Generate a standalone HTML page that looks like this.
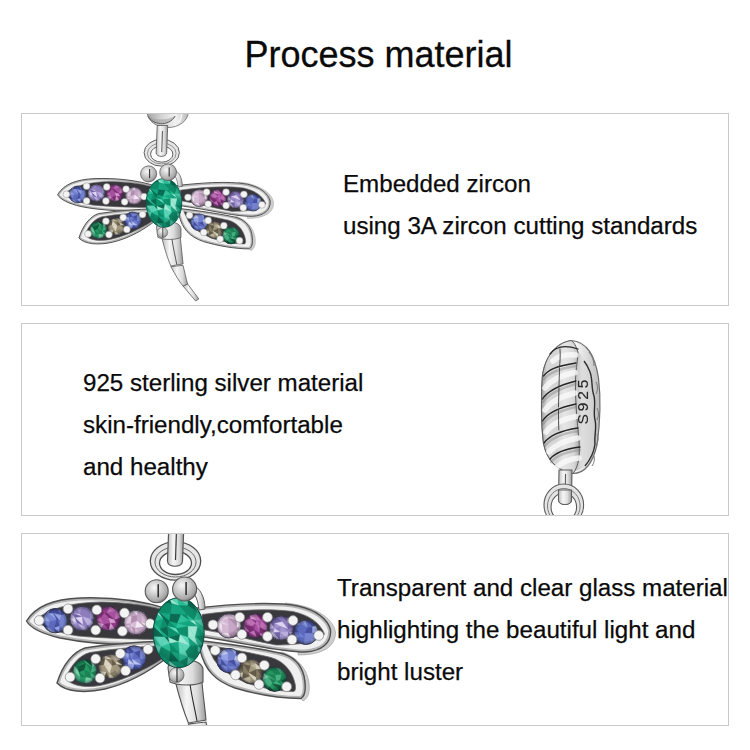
<!DOCTYPE html>
<html><head><meta charset="utf-8">
<style>
html,body{margin:0;padding:0;background:#fff;}
body{width:750px;height:750px;position:relative;overflow:hidden;font-family:"Liberation Sans",sans-serif;color:#0a0a0a;}
.t{position:absolute;white-space:nowrap;font-size:24.15px;line-height:28px;-webkit-text-stroke:0.25px #0a0a0a;}
.box{position:absolute;left:21px;width:706px;height:191px;border:1px solid #c9c9c9;}
#title{position:absolute;left:244.5px;top:35px;font-size:36px;line-height:40px;white-space:nowrap;-webkit-text-stroke:0.3px #0a0a0a;}
svg{position:absolute;left:0;top:0;}
</style></head><body>
<div id="title">Process material</div>
<div class="box" style="top:113px"></div>
<div class="box" style="top:323px"></div>
<div class="box" style="top:533px"></div>
<svg width="750" height="750" viewBox="0 0 750 750">
<defs>
<clipPath id="c1"><rect x="22" y="114" width="706" height="191"/></clipPath>
<clipPath id="c2"><rect x="22" y="324" width="706" height="191"/></clipPath>
<clipPath id="c3"><rect x="22" y="534" width="706" height="191"/></clipPath>
<radialGradient id="gBlue" cx="40%" cy="38%" r="65%"><stop offset="0" stop-color="#8c96d4"/><stop offset="0.55" stop-color="#5a64b0"/><stop offset="1" stop-color="#363c80"/></radialGradient><radialGradient id="gLav" cx="40%" cy="38%" r="65%"><stop offset="0" stop-color="#c4b8e4"/><stop offset="0.55" stop-color="#9486c4"/><stop offset="1" stop-color="#645698"/></radialGradient><radialGradient id="gMag" cx="40%" cy="38%" r="65%"><stop offset="0" stop-color="#c07cba"/><stop offset="0.55" stop-color="#9a4a92"/><stop offset="1" stop-color="#642a60"/></radialGradient><radialGradient id="gPink" cx="40%" cy="38%" r="65%"><stop offset="0" stop-color="#eedcee"/><stop offset="0.55" stop-color="#d4b4d4"/><stop offset="1" stop-color="#a488a4"/></radialGradient><radialGradient id="gGrn" cx="40%" cy="38%" r="65%"><stop offset="0" stop-color="#50b080"/><stop offset="0.55" stop-color="#248a5c"/><stop offset="1" stop-color="#12583c"/></radialGradient><radialGradient id="gTan" cx="40%" cy="38%" r="65%"><stop offset="0" stop-color="#d4ccb4"/><stop offset="0.55" stop-color="#a09478"/><stop offset="1" stop-color="#605844"/></radialGradient><radialGradient id="gTeal" cx="45%" cy="42%" r="62%"><stop offset="0" stop-color="#4cc8b0"/><stop offset="0.5" stop-color="#1c9a84"/><stop offset="1" stop-color="#0c5c50"/></radialGradient><radialGradient id="gBead" cx="45%" cy="60%" r="60%"><stop offset="0" stop-color="#f4f4f4"/><stop offset="0.6" stop-color="#d6d6d6"/><stop offset="1" stop-color="#a0a0a0"/></radialGradient><radialGradient id="gBall" cx="40%" cy="35%" r="70%"><stop offset="0" stop-color="#f8f8f8"/><stop offset="0.4" stop-color="#d0d0d0"/><stop offset="0.8" stop-color="#a8a8a8"/><stop offset="1" stop-color="#707070"/></radialGradient><radialGradient id="gEdge" cx="50%" cy="50%" r="50%"><stop offset="0" stop-color="#000" stop-opacity="0"/><stop offset="0.7" stop-color="#000" stop-opacity="0.03"/><stop offset="1" stop-color="#101020" stop-opacity="0.4"/></radialGradient><radialGradient id="gTealShade" cx="45%" cy="42%" r="58%"><stop offset="0" stop-color="#000" stop-opacity="0"/><stop offset="0.65" stop-color="#000" stop-opacity="0.05"/><stop offset="1" stop-color="#002a22" stop-opacity="0.35"/></radialGradient><linearGradient id="gBeadL" x1="0" y1="0" x2="1" y2="0"><stop offset="0" stop-color="#a4a4a4"/><stop offset="0.35" stop-color="#d4d4d4"/><stop offset="0.7" stop-color="#f2f2f2"/><stop offset="1" stop-color="#b8b8b8"/></linearGradient><linearGradient id="gSil" x1="0" y1="0" x2="1" y2="0"><stop offset="0" stop-color="#bdbdbd"/><stop offset="0.35" stop-color="#f6f6f6"/><stop offset="0.7" stop-color="#dcdcdc"/><stop offset="1" stop-color="#9a9a9a"/></linearGradient>
<filter id="soft" x="-5%" y="-5%" width="110%" height="110%"><feGaussianBlur stdDeviation="0.45"/></filter>
<g id="df">
<clipPath id="rc1"><path d="M26.5,621 C36,605 55,599 80,598 C110,597 140,600 168,609 L168,643 C130,646 90,644 60,638 C43,634 30.5,628 26.5,621 Z"/></clipPath><path fill="#f0f0f0" d="M26.5,621 C36,605 55,599 80,598 C110,597 140,600 168,609 L168,643 C130,646 90,644 60,638 C43,634 30.5,628 26.5,621 Z"/><path fill="none" stroke="#b4b4b4" stroke-width="5" clip-path="url(#rc1)" d="M26.5,621 C36,605 55,599 80,598 C110,597 140,600 168,609 L168,643 C130,646 90,644 60,638 C43,634 30.5,628 26.5,621 Z"/><path fill="none" stroke="#505050" stroke-width="1.4" d="M26.5,621 C36,605 55,599 80,598 C110,597 140,600 168,609 L168,643 C130,646 90,644 60,638 C43,634 30.5,628 26.5,621 Z"/>
<path fill="#38383c" stroke="#6a6a6a" stroke-width="0.8" d="M34.5,620.5 C49,608 72,602.5 102,602 C130,602.5 150,606 168,611 L168,639.5 C135,639.5 100,638 78,636 C58,633 44,627 34.5,620.5 Z"/>
<clipPath id="rc2"><path d="M57,683 C62.5,665 73,652 85,648 C110,644 140,642 168,641 L168,657 C150,671 130,683 105,689 C85,693.5 65.5,692 57,683 Z"/></clipPath><path fill="#f0f0f0" d="M57,683 C62.5,665 73,652 85,648 C110,644 140,642 168,641 L168,657 C150,671 130,683 105,689 C85,693.5 65.5,692 57,683 Z"/><path fill="none" stroke="#b4b4b4" stroke-width="5" clip-path="url(#rc2)" d="M57,683 C62.5,665 73,652 85,648 C110,644 140,642 168,641 L168,657 C150,671 130,683 105,689 C85,693.5 65.5,692 57,683 Z"/><path fill="none" stroke="#505050" stroke-width="1.4" d="M57,683 C62.5,665 73,652 85,648 C110,644 140,642 168,641 L168,657 C150,671 130,683 105,689 C85,693.5 65.5,692 57,683 Z"/>
<path fill="#38383c" stroke="#6a6a6a" stroke-width="0.8" d="M65.5,678.5 C71,665 79.5,655 90,652.5 C115,648.5 140,646.5 164,645.5 L162,659 C142,672 120,681.5 100,685.5 C85,688 72,686 65.5,678.5 Z"/>
<path fill="#cdcdcd" stroke="#9a9a9a" stroke-width="0.6" d="M285,603 C312,605 333,617 335.5,632 C336,647 322,655 298,655 L298,650 C320,650 330.5,643 330.5,630 C328,619 314,609 285,606 Z"/>
<path fill="#cdcdcd" stroke="#9a9a9a" stroke-width="0.6" d="M282,652 C297,657 306,668 308.5,680 C310.5,690 309,698 303,701 L301,698.5 C306,694 306,686 304,676 C301,664 293,656 280,653 Z"/>
<clipPath id="rc3"><path d="M188,609 C230,604 270,601 298,606 C316,610 328,619 330.5,630 C331.5,643 322,651 305,652 C275,652 240,641 188,635 Z"/></clipPath><path fill="#f0f0f0" d="M188,609 C230,604 270,601 298,606 C316,610 328,619 330.5,630 C331.5,643 322,651 305,652 C275,652 240,641 188,635 Z"/><path fill="none" stroke="#b4b4b4" stroke-width="5" clip-path="url(#rc3)" d="M188,609 C230,604 270,601 298,606 C316,610 328,619 330.5,630 C331.5,643 322,651 305,652 C275,652 240,641 188,635 Z"/><path fill="none" stroke="#505050" stroke-width="1.4" d="M188,609 C230,604 270,601 298,606 C316,610 328,619 330.5,630 C331.5,643 322,651 305,652 C275,652 240,641 188,635 Z"/>
<path fill="#38383c" stroke="#6a6a6a" stroke-width="0.8" d="M202,614.5 C240,609.5 270,608.5 293,611.5 C310,615.5 320,623 324.5,634 C318,642 300,645 276,645 C250,640 225,633 202,629.5 Z"/>
<clipPath id="rc4"><path d="M194,640 C230,644 262,649 280,653 C293,656 301,664 304,676 C306,686 306,695 301,698.5 C280,698.5 255,694 235,688 C215,681 205,670 200,650 Z"/></clipPath><path fill="#f0f0f0" d="M194,640 C230,644 262,649 280,653 C293,656 301,664 304,676 C306,686 306,695 301,698.5 C280,698.5 255,694 235,688 C215,681 205,670 200,650 Z"/><path fill="none" stroke="#b4b4b4" stroke-width="5" clip-path="url(#rc4)" d="M194,640 C230,644 262,649 280,653 C293,656 301,664 304,676 C306,686 306,695 301,698.5 C280,698.5 255,694 235,688 C215,681 205,670 200,650 Z"/><path fill="none" stroke="#505050" stroke-width="1.4" d="M194,640 C230,644 262,649 280,653 C293,656 301,664 304,676 C306,686 306,695 301,698.5 C280,698.5 255,694 235,688 C215,681 205,670 200,650 Z"/>
<path fill="#38383c" stroke="#6a6a6a" stroke-width="0.8" d="M207,645 C235,649.5 258,654.5 271,657.5 C283,661 291,670 294,680 C296,686 296,690 294,691.5 C280,691.5 262,688 248,683.5 C232,677 221,670 213.5,659 Z"/>
<circle cx="55.2" cy="620.7" r="12.2" fill="#7886d4"/><clipPath id="gc1"><ellipse cx="55.2" cy="620.7" rx="12.2" ry="12.2"/></clipPath><g clip-path="url(#gc1)"><polygon points="43.0,608.5 51.0,608.5 48.1,613.6" fill="#c0caf4" stroke="#c0caf4" stroke-width="0.4"/><polygon points="43.0,608.5 48.1,613.6 43.0,612.9" fill="#5e6cc0" stroke="#5e6cc0" stroke-width="0.4"/><polygon points="43.0,612.9 48.1,613.6 50.1,621.4" fill="#7886d4" stroke="#7886d4" stroke-width="0.4"/><polygon points="43.0,612.9 50.1,621.4 43.0,621.6" fill="#98a6e8" stroke="#98a6e8" stroke-width="0.4"/><polygon points="43.0,621.6 50.1,621.4 48.3,627.6" fill="#7886d4" stroke="#7886d4" stroke-width="0.4"/><polygon points="43.0,621.6 48.3,627.6 43.0,627.4" fill="#4650a0" stroke="#4650a0" stroke-width="0.4"/><polygon points="43.0,627.4 48.3,627.6 48.7,632.9" fill="#7886d4" stroke="#7886d4" stroke-width="0.4"/><polygon points="43.0,627.4 48.7,632.9 43.0,632.9" fill="#7886d4" stroke="#7886d4" stroke-width="0.4"/><polygon points="51.0,608.5 56.4,608.5 53.6,613.4" fill="#4650a0" stroke="#4650a0" stroke-width="0.4"/><polygon points="51.0,608.5 53.6,613.4 48.1,613.6" fill="#4650a0" stroke="#4650a0" stroke-width="0.4"/><polygon points="48.1,613.6 53.6,613.4 56.9,620.1" fill="#98a6e8" stroke="#98a6e8" stroke-width="0.4"/><polygon points="48.1,613.6 56.9,620.1 50.1,621.4" fill="#7886d4" stroke="#7886d4" stroke-width="0.4"/><polygon points="50.1,621.4 56.9,620.1 54.2,628.1" fill="#5e6cc0" stroke="#5e6cc0" stroke-width="0.4"/><polygon points="50.1,621.4 54.2,628.1 48.3,627.6" fill="#5e6cc0" stroke="#5e6cc0" stroke-width="0.4"/><polygon points="48.3,627.6 54.2,628.1 55.8,632.9" fill="#5e6cc0" stroke="#5e6cc0" stroke-width="0.4"/><polygon points="48.3,627.6 55.8,632.9 48.7,632.9" fill="#98a6e8" stroke="#98a6e8" stroke-width="0.4"/><polygon points="56.4,608.5 59.8,608.5 61.5,615.3" fill="#7886d4" stroke="#7886d4" stroke-width="0.4"/><polygon points="56.4,608.5 61.5,615.3 53.6,613.4" fill="#4650a0" stroke="#4650a0" stroke-width="0.4"/><polygon points="53.6,613.4 61.5,615.3 59.9,621.3" fill="#98a6e8" stroke="#98a6e8" stroke-width="0.4"/><polygon points="53.6,613.4 59.9,621.3 56.9,620.1" fill="#4650a0" stroke="#4650a0" stroke-width="0.4"/><polygon points="56.9,620.1 59.9,621.3 59.7,626.1" fill="#5e6cc0" stroke="#5e6cc0" stroke-width="0.4"/><polygon points="56.9,620.1 59.7,626.1 54.2,628.1" fill="#4650a0" stroke="#4650a0" stroke-width="0.4"/><polygon points="54.2,628.1 59.7,626.1 59.5,632.9" fill="#98a6e8" stroke="#98a6e8" stroke-width="0.4"/><polygon points="54.2,628.1 59.5,632.9 55.8,632.9" fill="#4650a0" stroke="#4650a0" stroke-width="0.4"/><polygon points="59.8,608.5 67.4,608.5 67.4,613.3" fill="#7886d4" stroke="#7886d4" stroke-width="0.4"/><polygon points="59.8,608.5 67.4,613.3 61.5,615.3" fill="#4650a0" stroke="#4650a0" stroke-width="0.4"/><polygon points="61.5,615.3 67.4,613.3 67.4,622.7" fill="#7886d4" stroke="#7886d4" stroke-width="0.4"/><polygon points="61.5,615.3 67.4,622.7 59.9,621.3" fill="#7886d4" stroke="#7886d4" stroke-width="0.4"/><polygon points="59.9,621.3 67.4,622.7 67.4,626.4" fill="#7886d4" stroke="#7886d4" stroke-width="0.4"/><polygon points="59.9,621.3 67.4,626.4 59.7,626.1" fill="#7886d4" stroke="#7886d4" stroke-width="0.4"/><polygon points="59.7,626.1 67.4,626.4 67.4,632.9" fill="#7886d4" stroke="#7886d4" stroke-width="0.4"/><polygon points="59.7,626.1 67.4,632.9 59.5,632.9" fill="#5e6cc0" stroke="#5e6cc0" stroke-width="0.4"/></g><circle cx="55.2" cy="620.7" r="12.2" fill="url(#gEdge)" stroke="#2c2c38" stroke-width="0.8"/>
<circle cx="82" cy="618.5" r="12.2" fill="#a496d0"/><clipPath id="gc2"><ellipse cx="82" cy="618.5" rx="12.2" ry="12.2"/></clipPath><g clip-path="url(#gc2)"><polygon points="69.8,606.3 74.6,606.3 74.0,613.8" fill="#7464a8" stroke="#7464a8" stroke-width="0.4"/><polygon points="69.8,606.3 74.0,613.8 69.8,613.0" fill="#9080c0" stroke="#9080c0" stroke-width="0.4"/><polygon points="69.8,613.0 74.0,613.8 75.2,618.0" fill="#9080c0" stroke="#9080c0" stroke-width="0.4"/><polygon points="69.8,613.0 75.2,618.0 69.8,619.4" fill="#c0b4e4" stroke="#c0b4e4" stroke-width="0.4"/><polygon points="69.8,619.4 75.2,618.0 77.2,623.2" fill="#e0d8f4" stroke="#e0d8f4" stroke-width="0.4"/><polygon points="69.8,619.4 77.2,623.2 69.8,626.6" fill="#c0b4e4" stroke="#c0b4e4" stroke-width="0.4"/><polygon points="69.8,626.6 77.2,623.2 77.6,630.7" fill="#a496d0" stroke="#a496d0" stroke-width="0.4"/><polygon points="69.8,626.6 77.6,630.7 69.8,630.7" fill="#7464a8" stroke="#7464a8" stroke-width="0.4"/><polygon points="74.6,606.3 82.0,606.3 80.2,614.2" fill="#a496d0" stroke="#a496d0" stroke-width="0.4"/><polygon points="74.6,606.3 80.2,614.2 74.0,613.8" fill="#9080c0" stroke="#9080c0" stroke-width="0.4"/><polygon points="74.0,613.8 80.2,614.2 82.3,616.7" fill="#e0d8f4" stroke="#e0d8f4" stroke-width="0.4"/><polygon points="74.0,613.8 82.3,616.7 75.2,618.0" fill="#7464a8" stroke="#7464a8" stroke-width="0.4"/><polygon points="75.2,618.0 82.3,616.7 83.4,625.8" fill="#e0d8f4" stroke="#e0d8f4" stroke-width="0.4"/><polygon points="75.2,618.0 83.4,625.8 77.2,623.2" fill="#7464a8" stroke="#7464a8" stroke-width="0.4"/><polygon points="77.2,623.2 83.4,625.8 83.0,630.7" fill="#c0b4e4" stroke="#c0b4e4" stroke-width="0.4"/><polygon points="77.2,623.2 83.0,630.7 77.6,630.7" fill="#9080c0" stroke="#9080c0" stroke-width="0.4"/><polygon points="82.0,606.3 88.8,606.3 90.2,610.3" fill="#a496d0" stroke="#a496d0" stroke-width="0.4"/><polygon points="82.0,606.3 90.2,610.3 80.2,614.2" fill="#9080c0" stroke="#9080c0" stroke-width="0.4"/><polygon points="80.2,614.2 90.2,610.3 90.1,619.1" fill="#9080c0" stroke="#9080c0" stroke-width="0.4"/><polygon points="80.2,614.2 90.1,619.1 82.3,616.7" fill="#9080c0" stroke="#9080c0" stroke-width="0.4"/><polygon points="82.3,616.7 90.1,619.1 87.0,625.1" fill="#c0b4e4" stroke="#c0b4e4" stroke-width="0.4"/><polygon points="82.3,616.7 87.0,625.1 83.4,625.8" fill="#9080c0" stroke="#9080c0" stroke-width="0.4"/><polygon points="83.4,625.8 87.0,625.1 87.4,630.7" fill="#9080c0" stroke="#9080c0" stroke-width="0.4"/><polygon points="83.4,625.8 87.4,630.7 83.0,630.7" fill="#c0b4e4" stroke="#c0b4e4" stroke-width="0.4"/><polygon points="88.8,606.3 94.2,606.3 94.2,613.0" fill="#7464a8" stroke="#7464a8" stroke-width="0.4"/><polygon points="88.8,606.3 94.2,613.0 90.2,610.3" fill="#9080c0" stroke="#9080c0" stroke-width="0.4"/><polygon points="90.2,610.3 94.2,613.0 94.2,619.4" fill="#a496d0" stroke="#a496d0" stroke-width="0.4"/><polygon points="90.2,610.3 94.2,619.4 90.1,619.1" fill="#a496d0" stroke="#a496d0" stroke-width="0.4"/><polygon points="90.1,619.1 94.2,619.4 94.2,624.7" fill="#7464a8" stroke="#7464a8" stroke-width="0.4"/><polygon points="90.1,619.1 94.2,624.7 87.0,625.1" fill="#c0b4e4" stroke="#c0b4e4" stroke-width="0.4"/><polygon points="87.0,625.1 94.2,624.7 94.2,630.7" fill="#a496d0" stroke="#a496d0" stroke-width="0.4"/><polygon points="87.0,625.1 94.2,630.7 87.4,630.7" fill="#7464a8" stroke="#7464a8" stroke-width="0.4"/></g><circle cx="82" cy="618.5" r="12.2" fill="url(#gEdge)" stroke="#2c2c38" stroke-width="0.8"/>
<circle cx="108.5" cy="618.5" r="12.2" fill="#aa52a2"/><clipPath id="gc3"><ellipse cx="108.5" cy="618.5" rx="12.2" ry="12.2"/></clipPath><g clip-path="url(#gc3)"><polygon points="96.3,606.3 101.5,606.3 104.4,613.1" fill="#943e8c" stroke="#943e8c" stroke-width="0.4"/><polygon points="96.3,606.3 104.4,613.1 96.3,612.2" fill="#782e70" stroke="#782e70" stroke-width="0.4"/><polygon points="96.3,612.2 104.4,613.1 100.8,617.9" fill="#782e70" stroke="#782e70" stroke-width="0.4"/><polygon points="96.3,612.2 100.8,617.9 96.3,620.1" fill="#943e8c" stroke="#943e8c" stroke-width="0.4"/><polygon points="96.3,620.1 100.8,617.9 104.0,624.3" fill="#c072b8" stroke="#c072b8" stroke-width="0.4"/><polygon points="96.3,620.1 104.0,624.3 96.3,622.6" fill="#aa52a2" stroke="#aa52a2" stroke-width="0.4"/><polygon points="96.3,622.6 104.0,624.3 100.4,630.7" fill="#dca0d6" stroke="#dca0d6" stroke-width="0.4"/><polygon points="96.3,622.6 100.4,630.7 96.3,630.7" fill="#c072b8" stroke="#c072b8" stroke-width="0.4"/><polygon points="101.5,606.3 110.2,606.3 106.9,613.0" fill="#943e8c" stroke="#943e8c" stroke-width="0.4"/><polygon points="101.5,606.3 106.9,613.0 104.4,613.1" fill="#943e8c" stroke="#943e8c" stroke-width="0.4"/><polygon points="104.4,613.1 106.9,613.0 109.0,618.3" fill="#782e70" stroke="#782e70" stroke-width="0.4"/><polygon points="104.4,613.1 109.0,618.3 100.8,617.9" fill="#aa52a2" stroke="#aa52a2" stroke-width="0.4"/><polygon points="100.8,617.9 109.0,618.3 110.5,623.2" fill="#aa52a2" stroke="#aa52a2" stroke-width="0.4"/><polygon points="100.8,617.9 110.5,623.2 104.0,624.3" fill="#aa52a2" stroke="#aa52a2" stroke-width="0.4"/><polygon points="104.0,624.3 110.5,623.2 108.9,630.7" fill="#782e70" stroke="#782e70" stroke-width="0.4"/><polygon points="104.0,624.3 108.9,630.7 100.4,630.7" fill="#aa52a2" stroke="#aa52a2" stroke-width="0.4"/><polygon points="110.2,606.3 113.0,606.3 116.6,610.9" fill="#782e70" stroke="#782e70" stroke-width="0.4"/><polygon points="110.2,606.3 116.6,610.9 106.9,613.0" fill="#c072b8" stroke="#c072b8" stroke-width="0.4"/><polygon points="106.9,613.0 116.6,610.9 114.7,619.9" fill="#aa52a2" stroke="#aa52a2" stroke-width="0.4"/><polygon points="106.9,613.0 114.7,619.9 109.0,618.3" fill="#782e70" stroke="#782e70" stroke-width="0.4"/><polygon points="109.0,618.3 114.7,619.9 116.2,622.9" fill="#dca0d6" stroke="#dca0d6" stroke-width="0.4"/><polygon points="109.0,618.3 116.2,622.9 110.5,623.2" fill="#dca0d6" stroke="#dca0d6" stroke-width="0.4"/><polygon points="110.5,623.2 116.2,622.9 116.2,630.7" fill="#943e8c" stroke="#943e8c" stroke-width="0.4"/><polygon points="110.5,623.2 116.2,630.7 108.9,630.7" fill="#dca0d6" stroke="#dca0d6" stroke-width="0.4"/><polygon points="113.0,606.3 120.7,606.3 120.7,613.9" fill="#943e8c" stroke="#943e8c" stroke-width="0.4"/><polygon points="113.0,606.3 120.7,613.9 116.6,610.9" fill="#aa52a2" stroke="#aa52a2" stroke-width="0.4"/><polygon points="116.6,610.9 120.7,613.9 120.7,617.7" fill="#aa52a2" stroke="#aa52a2" stroke-width="0.4"/><polygon points="116.6,610.9 120.7,617.7 114.7,619.9" fill="#c072b8" stroke="#c072b8" stroke-width="0.4"/><polygon points="114.7,619.9 120.7,617.7 120.7,625.7" fill="#782e70" stroke="#782e70" stroke-width="0.4"/><polygon points="114.7,619.9 120.7,625.7 116.2,622.9" fill="#782e70" stroke="#782e70" stroke-width="0.4"/><polygon points="116.2,622.9 120.7,625.7 120.7,630.7" fill="#782e70" stroke="#782e70" stroke-width="0.4"/><polygon points="116.2,622.9 120.7,630.7 116.2,630.7" fill="#943e8c" stroke="#943e8c" stroke-width="0.4"/></g><circle cx="108.5" cy="618.5" r="12.2" fill="url(#gEdge)" stroke="#2c2c38" stroke-width="0.8"/>
<circle cx="136" cy="622.5" r="12.2" fill="#d8bcd8"/><clipPath id="gc4"><ellipse cx="136" cy="622.5" rx="12.2" ry="12.2"/></clipPath><g clip-path="url(#gc4)"><polygon points="123.8,610.3 130.8,610.3 131.8,616.5" fill="#c8aac8" stroke="#c8aac8" stroke-width="0.4"/><polygon points="123.8,610.3 131.8,616.5 123.8,616.9" fill="#c8aac8" stroke="#c8aac8" stroke-width="0.4"/><polygon points="123.8,616.9 131.8,616.5 130.9,623.5" fill="#e8d2e8" stroke="#e8d2e8" stroke-width="0.4"/><polygon points="123.8,616.9 130.9,623.5 123.8,624.2" fill="#e8d2e8" stroke="#e8d2e8" stroke-width="0.4"/><polygon points="123.8,624.2 130.9,623.5 131.4,626.6" fill="#c8aac8" stroke="#c8aac8" stroke-width="0.4"/><polygon points="123.8,624.2 131.4,626.6 123.8,628.4" fill="#e8d2e8" stroke="#e8d2e8" stroke-width="0.4"/><polygon points="123.8,628.4 131.4,626.6 128.5,634.7" fill="#c8aac8" stroke="#c8aac8" stroke-width="0.4"/><polygon points="123.8,628.4 128.5,634.7 123.8,634.7" fill="#c8aac8" stroke="#c8aac8" stroke-width="0.4"/><polygon points="130.8,610.3 138.1,610.3 137.1,615.4" fill="#f6ecf6" stroke="#f6ecf6" stroke-width="0.4"/><polygon points="130.8,610.3 137.1,615.4 131.8,616.5" fill="#c8aac8" stroke="#c8aac8" stroke-width="0.4"/><polygon points="131.8,616.5 137.1,615.4 137.0,621.1" fill="#b090b0" stroke="#b090b0" stroke-width="0.4"/><polygon points="131.8,616.5 137.0,621.1 130.9,623.5" fill="#b090b0" stroke="#b090b0" stroke-width="0.4"/><polygon points="130.9,623.5 137.0,621.1 135.4,628.3" fill="#d8bcd8" stroke="#d8bcd8" stroke-width="0.4"/><polygon points="130.9,623.5 135.4,628.3 131.4,626.6" fill="#e8d2e8" stroke="#e8d2e8" stroke-width="0.4"/><polygon points="131.4,626.6 135.4,628.3 134.8,634.7" fill="#b090b0" stroke="#b090b0" stroke-width="0.4"/><polygon points="131.4,626.6 134.8,634.7 128.5,634.7" fill="#d8bcd8" stroke="#d8bcd8" stroke-width="0.4"/><polygon points="138.1,610.3 140.6,610.3 142.1,617.0" fill="#c8aac8" stroke="#c8aac8" stroke-width="0.4"/><polygon points="138.1,610.3 142.1,617.0 137.1,615.4" fill="#c8aac8" stroke="#c8aac8" stroke-width="0.4"/><polygon points="137.1,615.4 142.1,617.0 141.3,623.2" fill="#c8aac8" stroke="#c8aac8" stroke-width="0.4"/><polygon points="137.1,615.4 141.3,623.2 137.0,621.1" fill="#c8aac8" stroke="#c8aac8" stroke-width="0.4"/><polygon points="137.0,621.1 141.3,623.2 144.2,626.7" fill="#b090b0" stroke="#b090b0" stroke-width="0.4"/><polygon points="137.0,621.1 144.2,626.7 135.4,628.3" fill="#f6ecf6" stroke="#f6ecf6" stroke-width="0.4"/><polygon points="135.4,628.3 144.2,626.7 141.2,634.7" fill="#c8aac8" stroke="#c8aac8" stroke-width="0.4"/><polygon points="135.4,628.3 141.2,634.7 134.8,634.7" fill="#d8bcd8" stroke="#d8bcd8" stroke-width="0.4"/><polygon points="140.6,610.3 148.2,610.3 148.2,614.7" fill="#d8bcd8" stroke="#d8bcd8" stroke-width="0.4"/><polygon points="140.6,610.3 148.2,614.7 142.1,617.0" fill="#d8bcd8" stroke="#d8bcd8" stroke-width="0.4"/><polygon points="142.1,617.0 148.2,614.7 148.2,623.3" fill="#d8bcd8" stroke="#d8bcd8" stroke-width="0.4"/><polygon points="142.1,617.0 148.2,623.3 141.3,623.2" fill="#d8bcd8" stroke="#d8bcd8" stroke-width="0.4"/><polygon points="141.3,623.2 148.2,623.3 148.2,628.2" fill="#f6ecf6" stroke="#f6ecf6" stroke-width="0.4"/><polygon points="141.3,623.2 148.2,628.2 144.2,626.7" fill="#b090b0" stroke="#b090b0" stroke-width="0.4"/><polygon points="144.2,626.7 148.2,628.2 148.2,634.7" fill="#c8aac8" stroke="#c8aac8" stroke-width="0.4"/><polygon points="144.2,626.7 148.2,634.7 141.2,634.7" fill="#c8aac8" stroke="#c8aac8" stroke-width="0.4"/></g><circle cx="136" cy="622.5" r="12.2" fill="url(#gEdge)" stroke="#2c2c38" stroke-width="0.8"/>
<circle cx="85" cy="671.5" r="12.2" fill="#289a66"/><clipPath id="gc5"><ellipse cx="85" cy="671.5" rx="12.2" ry="12.2"/></clipPath><g clip-path="url(#gc5)"><polygon points="72.8,659.3 78.7,659.3 77.9,666.9" fill="#1c8456" stroke="#1c8456" stroke-width="0.4"/><polygon points="72.8,659.3 77.9,666.9 72.8,663.6" fill="#1c8456" stroke="#1c8456" stroke-width="0.4"/><polygon points="72.8,663.6 77.9,666.9 79.2,672.5" fill="#1c8456" stroke="#1c8456" stroke-width="0.4"/><polygon points="72.8,663.6 79.2,672.5 72.8,671.2" fill="#80d4ae" stroke="#80d4ae" stroke-width="0.4"/><polygon points="72.8,671.2 79.2,672.5 80.7,677.6" fill="#80d4ae" stroke="#80d4ae" stroke-width="0.4"/><polygon points="72.8,671.2 80.7,677.6 72.8,676.5" fill="#48b484" stroke="#48b484" stroke-width="0.4"/><polygon points="72.8,676.5 80.7,677.6 78.8,683.7" fill="#48b484" stroke="#48b484" stroke-width="0.4"/><polygon points="72.8,676.5 78.8,683.7 72.8,683.7" fill="#1c8456" stroke="#1c8456" stroke-width="0.4"/><polygon points="78.7,659.3 83.4,659.3 86.2,663.6" fill="#1c8456" stroke="#1c8456" stroke-width="0.4"/><polygon points="78.7,659.3 86.2,663.6 77.9,666.9" fill="#1c8456" stroke="#1c8456" stroke-width="0.4"/><polygon points="77.9,666.9 86.2,663.6 84.4,670.1" fill="#125a3c" stroke="#125a3c" stroke-width="0.4"/><polygon points="77.9,666.9 84.4,670.1 79.2,672.5" fill="#125a3c" stroke="#125a3c" stroke-width="0.4"/><polygon points="79.2,672.5 84.4,670.1 86.0,677.4" fill="#289a66" stroke="#289a66" stroke-width="0.4"/><polygon points="79.2,672.5 86.0,677.4 80.7,677.6" fill="#1c8456" stroke="#1c8456" stroke-width="0.4"/><polygon points="80.7,677.6 86.0,677.4 85.0,683.7" fill="#289a66" stroke="#289a66" stroke-width="0.4"/><polygon points="80.7,677.6 85.0,683.7 78.8,683.7" fill="#289a66" stroke="#289a66" stroke-width="0.4"/><polygon points="83.4,659.3 91.2,659.3 92.6,667.4" fill="#125a3c" stroke="#125a3c" stroke-width="0.4"/><polygon points="83.4,659.3 92.6,667.4 86.2,663.6" fill="#48b484" stroke="#48b484" stroke-width="0.4"/><polygon points="86.2,663.6 92.6,667.4 90.5,673.1" fill="#1c8456" stroke="#1c8456" stroke-width="0.4"/><polygon points="86.2,663.6 90.5,673.1 84.4,670.1" fill="#289a66" stroke="#289a66" stroke-width="0.4"/><polygon points="84.4,670.1 90.5,673.1 92.0,678.4" fill="#1c8456" stroke="#1c8456" stroke-width="0.4"/><polygon points="84.4,670.1 92.0,678.4 86.0,677.4" fill="#1c8456" stroke="#1c8456" stroke-width="0.4"/><polygon points="86.0,677.4 92.0,678.4 93.1,683.7" fill="#80d4ae" stroke="#80d4ae" stroke-width="0.4"/><polygon points="86.0,677.4 93.1,683.7 85.0,683.7" fill="#80d4ae" stroke="#80d4ae" stroke-width="0.4"/><polygon points="91.2,659.3 97.2,659.3 97.2,664.1" fill="#1c8456" stroke="#1c8456" stroke-width="0.4"/><polygon points="91.2,659.3 97.2,664.1 92.6,667.4" fill="#80d4ae" stroke="#80d4ae" stroke-width="0.4"/><polygon points="92.6,667.4 97.2,664.1 97.2,670.7" fill="#48b484" stroke="#48b484" stroke-width="0.4"/><polygon points="92.6,667.4 97.2,670.7 90.5,673.1" fill="#48b484" stroke="#48b484" stroke-width="0.4"/><polygon points="90.5,673.1 97.2,670.7 97.2,677.5" fill="#1c8456" stroke="#1c8456" stroke-width="0.4"/><polygon points="90.5,673.1 97.2,677.5 92.0,678.4" fill="#48b484" stroke="#48b484" stroke-width="0.4"/><polygon points="92.0,678.4 97.2,677.5 97.2,683.7" fill="#289a66" stroke="#289a66" stroke-width="0.4"/><polygon points="92.0,678.4 97.2,683.7 93.1,683.7" fill="#289a66" stroke="#289a66" stroke-width="0.4"/></g><circle cx="85" cy="671.5" r="12.2" fill="url(#gEdge)" stroke="#2c2c38" stroke-width="0.8"/>
<circle cx="110.7" cy="666.4" r="12.2" fill="#a49a80"/><clipPath id="gc6"><ellipse cx="110.7" cy="666.4" rx="12.2" ry="12.2"/></clipPath><g clip-path="url(#gc6)"><polygon points="98.5,654.2 103.5,654.2 105.4,658.8" fill="#a49a80" stroke="#a49a80" stroke-width="0.4"/><polygon points="98.5,654.2 105.4,658.8 98.5,658.8" fill="#a49a80" stroke="#a49a80" stroke-width="0.4"/><polygon points="98.5,658.8 105.4,658.8 104.0,665.1" fill="#645c48" stroke="#645c48" stroke-width="0.4"/><polygon points="98.5,658.8 104.0,665.1 98.5,665.8" fill="#645c48" stroke="#645c48" stroke-width="0.4"/><polygon points="98.5,665.8 104.0,665.1 106.6,672.5" fill="#a49a80" stroke="#a49a80" stroke-width="0.4"/><polygon points="98.5,665.8 106.6,672.5 98.5,671.1" fill="#a49a80" stroke="#a49a80" stroke-width="0.4"/><polygon points="98.5,671.1 106.6,672.5 103.8,678.6" fill="#e0d8c4" stroke="#e0d8c4" stroke-width="0.4"/><polygon points="98.5,671.1 103.8,678.6 98.5,678.6" fill="#645c48" stroke="#645c48" stroke-width="0.4"/><polygon points="103.5,654.2 110.3,654.2 112.1,659.7" fill="#887e68" stroke="#887e68" stroke-width="0.4"/><polygon points="103.5,654.2 112.1,659.7 105.4,658.8" fill="#e0d8c4" stroke="#e0d8c4" stroke-width="0.4"/><polygon points="105.4,658.8 112.1,659.7 112.1,665.9" fill="#887e68" stroke="#887e68" stroke-width="0.4"/><polygon points="105.4,658.8 112.1,665.9 104.0,665.1" fill="#e0d8c4" stroke="#e0d8c4" stroke-width="0.4"/><polygon points="104.0,665.1 112.1,665.9 109.7,674.2" fill="#e0d8c4" stroke="#e0d8c4" stroke-width="0.4"/><polygon points="104.0,665.1 109.7,674.2 106.6,672.5" fill="#a49a80" stroke="#a49a80" stroke-width="0.4"/><polygon points="106.6,672.5 109.7,674.2 108.7,678.6" fill="#a49a80" stroke="#a49a80" stroke-width="0.4"/><polygon points="106.6,672.5 108.7,678.6 103.8,678.6" fill="#645c48" stroke="#645c48" stroke-width="0.4"/><polygon points="110.3,654.2 118.6,654.2 116.1,661.3" fill="#c0b8a0" stroke="#c0b8a0" stroke-width="0.4"/><polygon points="110.3,654.2 116.1,661.3 112.1,659.7" fill="#a49a80" stroke="#a49a80" stroke-width="0.4"/><polygon points="112.1,659.7 116.1,661.3 116.6,664.6" fill="#a49a80" stroke="#a49a80" stroke-width="0.4"/><polygon points="112.1,659.7 116.6,664.6 112.1,665.9" fill="#645c48" stroke="#645c48" stroke-width="0.4"/><polygon points="112.1,665.9 116.6,664.6 114.9,670.8" fill="#a49a80" stroke="#a49a80" stroke-width="0.4"/><polygon points="112.1,665.9 114.9,670.8 109.7,674.2" fill="#a49a80" stroke="#a49a80" stroke-width="0.4"/><polygon points="109.7,674.2 114.9,670.8 115.2,678.6" fill="#887e68" stroke="#887e68" stroke-width="0.4"/><polygon points="109.7,674.2 115.2,678.6 108.7,678.6" fill="#e0d8c4" stroke="#e0d8c4" stroke-width="0.4"/><polygon points="118.6,654.2 122.9,654.2 122.9,659.0" fill="#e0d8c4" stroke="#e0d8c4" stroke-width="0.4"/><polygon points="118.6,654.2 122.9,659.0 116.1,661.3" fill="#c0b8a0" stroke="#c0b8a0" stroke-width="0.4"/><polygon points="116.1,661.3 122.9,659.0 122.9,665.4" fill="#645c48" stroke="#645c48" stroke-width="0.4"/><polygon points="116.1,661.3 122.9,665.4 116.6,664.6" fill="#e0d8c4" stroke="#e0d8c4" stroke-width="0.4"/><polygon points="116.6,664.6 122.9,665.4 122.9,671.3" fill="#645c48" stroke="#645c48" stroke-width="0.4"/><polygon points="116.6,664.6 122.9,671.3 114.9,670.8" fill="#a49a80" stroke="#a49a80" stroke-width="0.4"/><polygon points="114.9,670.8 122.9,671.3 122.9,678.6" fill="#a49a80" stroke="#a49a80" stroke-width="0.4"/><polygon points="114.9,670.8 122.9,678.6 115.2,678.6" fill="#887e68" stroke="#887e68" stroke-width="0.4"/></g><circle cx="110.7" cy="666.4" r="12.2" fill="url(#gEdge)" stroke="#2c2c38" stroke-width="0.8"/>
<circle cx="134" cy="658" r="12.2" fill="#7886d4"/><clipPath id="gc7"><ellipse cx="134" cy="658" rx="12.2" ry="12.2"/></clipPath><g clip-path="url(#gc7)"><polygon points="121.8,645.8 128.3,645.8 129.2,653.9" fill="#5e6cc0" stroke="#5e6cc0" stroke-width="0.4"/><polygon points="121.8,645.8 129.2,653.9 121.8,651.6" fill="#4650a0" stroke="#4650a0" stroke-width="0.4"/><polygon points="121.8,651.6 129.2,653.9 128.6,659.3" fill="#98a6e8" stroke="#98a6e8" stroke-width="0.4"/><polygon points="121.8,651.6 128.6,659.3 121.8,658.3" fill="#7886d4" stroke="#7886d4" stroke-width="0.4"/><polygon points="121.8,658.3 128.6,659.3 128.2,664.0" fill="#5e6cc0" stroke="#5e6cc0" stroke-width="0.4"/><polygon points="121.8,658.3 128.2,664.0 121.8,664.3" fill="#4650a0" stroke="#4650a0" stroke-width="0.4"/><polygon points="121.8,664.3 128.2,664.0 129.3,670.2" fill="#5e6cc0" stroke="#5e6cc0" stroke-width="0.4"/><polygon points="121.8,664.3 129.3,670.2 121.8,670.2" fill="#7886d4" stroke="#7886d4" stroke-width="0.4"/><polygon points="128.3,645.8 136.1,645.8 134.3,652.5" fill="#7886d4" stroke="#7886d4" stroke-width="0.4"/><polygon points="128.3,645.8 134.3,652.5 129.2,653.9" fill="#4650a0" stroke="#4650a0" stroke-width="0.4"/><polygon points="129.2,653.9 134.3,652.5 132.1,659.5" fill="#7886d4" stroke="#7886d4" stroke-width="0.4"/><polygon points="129.2,653.9 132.1,659.5 128.6,659.3" fill="#5e6cc0" stroke="#5e6cc0" stroke-width="0.4"/><polygon points="128.6,659.3 132.1,659.5 134.6,664.7" fill="#5e6cc0" stroke="#5e6cc0" stroke-width="0.4"/><polygon points="128.6,659.3 134.6,664.7 128.2,664.0" fill="#c0caf4" stroke="#c0caf4" stroke-width="0.4"/><polygon points="128.2,664.0 134.6,664.7 132.6,670.2" fill="#98a6e8" stroke="#98a6e8" stroke-width="0.4"/><polygon points="128.2,664.0 132.6,670.2 129.3,670.2" fill="#98a6e8" stroke="#98a6e8" stroke-width="0.4"/><polygon points="136.1,645.8 140.4,645.8 140.6,650.4" fill="#98a6e8" stroke="#98a6e8" stroke-width="0.4"/><polygon points="136.1,645.8 140.6,650.4 134.3,652.5" fill="#7886d4" stroke="#7886d4" stroke-width="0.4"/><polygon points="134.3,652.5 140.6,650.4 139.7,659.0" fill="#4650a0" stroke="#4650a0" stroke-width="0.4"/><polygon points="134.3,652.5 139.7,659.0 132.1,659.5" fill="#5e6cc0" stroke="#5e6cc0" stroke-width="0.4"/><polygon points="132.1,659.5 139.7,659.0 141.3,665.0" fill="#7886d4" stroke="#7886d4" stroke-width="0.4"/><polygon points="132.1,659.5 141.3,665.0 134.6,664.7" fill="#c0caf4" stroke="#c0caf4" stroke-width="0.4"/><polygon points="134.6,664.7 141.3,665.0 140.8,670.2" fill="#5e6cc0" stroke="#5e6cc0" stroke-width="0.4"/><polygon points="134.6,664.7 140.8,670.2 132.6,670.2" fill="#4650a0" stroke="#4650a0" stroke-width="0.4"/><polygon points="140.4,645.8 146.2,645.8 146.2,653.8" fill="#c0caf4" stroke="#c0caf4" stroke-width="0.4"/><polygon points="140.4,645.8 146.2,653.8 140.6,650.4" fill="#7886d4" stroke="#7886d4" stroke-width="0.4"/><polygon points="140.6,650.4 146.2,653.8 146.2,659.2" fill="#98a6e8" stroke="#98a6e8" stroke-width="0.4"/><polygon points="140.6,650.4 146.2,659.2 139.7,659.0" fill="#7886d4" stroke="#7886d4" stroke-width="0.4"/><polygon points="139.7,659.0 146.2,659.2 146.2,662.3" fill="#5e6cc0" stroke="#5e6cc0" stroke-width="0.4"/><polygon points="139.7,659.0 146.2,662.3 141.3,665.0" fill="#5e6cc0" stroke="#5e6cc0" stroke-width="0.4"/><polygon points="141.3,665.0 146.2,662.3 146.2,670.2" fill="#4650a0" stroke="#4650a0" stroke-width="0.4"/><polygon points="141.3,665.0 146.2,670.2 140.8,670.2" fill="#5e6cc0" stroke="#5e6cc0" stroke-width="0.4"/></g><circle cx="134" cy="658" r="12.2" fill="url(#gEdge)" stroke="#2c2c38" stroke-width="0.8"/>
<circle cx="229" cy="625.9" r="12.2" fill="#d8bcd8"/><clipPath id="gc8"><ellipse cx="229" cy="625.9" rx="12.2" ry="12.2"/></clipPath><g clip-path="url(#gc8)"><polygon points="216.8,613.7 224.8,613.7 222.1,620.9" fill="#e8d2e8" stroke="#e8d2e8" stroke-width="0.4"/><polygon points="216.8,613.7 222.1,620.9 216.8,621.4" fill="#e8d2e8" stroke="#e8d2e8" stroke-width="0.4"/><polygon points="216.8,621.4 222.1,620.9 222.2,624.5" fill="#e8d2e8" stroke="#e8d2e8" stroke-width="0.4"/><polygon points="216.8,621.4 222.2,624.5 216.8,625.3" fill="#f6ecf6" stroke="#f6ecf6" stroke-width="0.4"/><polygon points="216.8,625.3 222.2,624.5 222.3,633.1" fill="#f6ecf6" stroke="#f6ecf6" stroke-width="0.4"/><polygon points="216.8,625.3 222.3,633.1 216.8,633.2" fill="#e8d2e8" stroke="#e8d2e8" stroke-width="0.4"/><polygon points="216.8,633.2 222.3,633.1 221.4,638.1" fill="#c8aac8" stroke="#c8aac8" stroke-width="0.4"/><polygon points="216.8,633.2 221.4,638.1 216.8,638.1" fill="#d8bcd8" stroke="#d8bcd8" stroke-width="0.4"/><polygon points="224.8,613.7 229.7,613.7 228.4,618.4" fill="#d8bcd8" stroke="#d8bcd8" stroke-width="0.4"/><polygon points="224.8,613.7 228.4,618.4 222.1,620.9" fill="#e8d2e8" stroke="#e8d2e8" stroke-width="0.4"/><polygon points="222.1,620.9 228.4,618.4 228.7,625.4" fill="#d8bcd8" stroke="#d8bcd8" stroke-width="0.4"/><polygon points="222.1,620.9 228.7,625.4 222.2,624.5" fill="#e8d2e8" stroke="#e8d2e8" stroke-width="0.4"/><polygon points="222.2,624.5 228.7,625.4 228.8,633.6" fill="#d8bcd8" stroke="#d8bcd8" stroke-width="0.4"/><polygon points="222.2,624.5 228.8,633.6 222.3,633.1" fill="#d8bcd8" stroke="#d8bcd8" stroke-width="0.4"/><polygon points="222.3,633.1 228.8,633.6 230.8,638.1" fill="#f6ecf6" stroke="#f6ecf6" stroke-width="0.4"/><polygon points="222.3,633.1 230.8,638.1 221.4,638.1" fill="#e8d2e8" stroke="#e8d2e8" stroke-width="0.4"/><polygon points="229.7,613.7 233.9,613.7 237.2,620.3" fill="#f6ecf6" stroke="#f6ecf6" stroke-width="0.4"/><polygon points="229.7,613.7 237.2,620.3 228.4,618.4" fill="#d8bcd8" stroke="#d8bcd8" stroke-width="0.4"/><polygon points="228.4,618.4 237.2,620.3 237.1,627.3" fill="#b090b0" stroke="#b090b0" stroke-width="0.4"/><polygon points="228.4,618.4 237.1,627.3 228.7,625.4" fill="#c8aac8" stroke="#c8aac8" stroke-width="0.4"/><polygon points="228.7,625.4 237.1,627.3 235.2,630.9" fill="#c8aac8" stroke="#c8aac8" stroke-width="0.4"/><polygon points="228.7,625.4 235.2,630.9 228.8,633.6" fill="#c8aac8" stroke="#c8aac8" stroke-width="0.4"/><polygon points="228.8,633.6 235.2,630.9 236.9,638.1" fill="#b090b0" stroke="#b090b0" stroke-width="0.4"/><polygon points="228.8,633.6 236.9,638.1 230.8,638.1" fill="#b090b0" stroke="#b090b0" stroke-width="0.4"/><polygon points="233.9,613.7 241.2,613.7 241.2,621.9" fill="#d8bcd8" stroke="#d8bcd8" stroke-width="0.4"/><polygon points="233.9,613.7 241.2,621.9 237.2,620.3" fill="#e8d2e8" stroke="#e8d2e8" stroke-width="0.4"/><polygon points="237.2,620.3 241.2,621.9 241.2,626.4" fill="#e8d2e8" stroke="#e8d2e8" stroke-width="0.4"/><polygon points="237.2,620.3 241.2,626.4 237.1,627.3" fill="#f6ecf6" stroke="#f6ecf6" stroke-width="0.4"/><polygon points="237.1,627.3 241.2,626.4 241.2,630.4" fill="#d8bcd8" stroke="#d8bcd8" stroke-width="0.4"/><polygon points="237.1,627.3 241.2,630.4 235.2,630.9" fill="#b090b0" stroke="#b090b0" stroke-width="0.4"/><polygon points="235.2,630.9 241.2,630.4 241.2,638.1" fill="#c8aac8" stroke="#c8aac8" stroke-width="0.4"/><polygon points="235.2,630.9 241.2,638.1 236.9,638.1" fill="#b090b0" stroke="#b090b0" stroke-width="0.4"/></g><circle cx="229" cy="625.9" r="12.2" fill="url(#gEdge)" stroke="#2c2c38" stroke-width="0.8"/>
<circle cx="255.7" cy="625.9" r="12.2" fill="#aa52a2"/><clipPath id="gc9"><ellipse cx="255.7" cy="625.9" rx="12.2" ry="12.2"/></clipPath><g clip-path="url(#gc9)"><polygon points="243.5,613.7 249.0,613.7 250.7,619.0" fill="#782e70" stroke="#782e70" stroke-width="0.4"/><polygon points="243.5,613.7 250.7,619.0 243.5,620.7" fill="#943e8c" stroke="#943e8c" stroke-width="0.4"/><polygon points="243.5,620.7 250.7,619.0 251.2,626.4" fill="#c072b8" stroke="#c072b8" stroke-width="0.4"/><polygon points="243.5,620.7 251.2,626.4 243.5,624.5" fill="#aa52a2" stroke="#aa52a2" stroke-width="0.4"/><polygon points="243.5,624.5 251.2,626.4 249.6,632.5" fill="#782e70" stroke="#782e70" stroke-width="0.4"/><polygon points="243.5,624.5 249.6,632.5 243.5,630.3" fill="#c072b8" stroke="#c072b8" stroke-width="0.4"/><polygon points="243.5,630.3 249.6,632.5 249.9,638.1" fill="#782e70" stroke="#782e70" stroke-width="0.4"/><polygon points="243.5,630.3 249.9,638.1 243.5,638.1" fill="#782e70" stroke="#782e70" stroke-width="0.4"/><polygon points="249.0,613.7 255.8,613.7 257.0,620.6" fill="#c072b8" stroke="#c072b8" stroke-width="0.4"/><polygon points="249.0,613.7 257.0,620.6 250.7,619.0" fill="#dca0d6" stroke="#dca0d6" stroke-width="0.4"/><polygon points="250.7,619.0 257.0,620.6 255.8,623.8" fill="#943e8c" stroke="#943e8c" stroke-width="0.4"/><polygon points="250.7,619.0 255.8,623.8 251.2,626.4" fill="#c072b8" stroke="#c072b8" stroke-width="0.4"/><polygon points="251.2,626.4 255.8,623.8 254.5,630.4" fill="#943e8c" stroke="#943e8c" stroke-width="0.4"/><polygon points="251.2,626.4 254.5,630.4 249.6,632.5" fill="#782e70" stroke="#782e70" stroke-width="0.4"/><polygon points="249.6,632.5 254.5,630.4 257.3,638.1" fill="#c072b8" stroke="#c072b8" stroke-width="0.4"/><polygon points="249.6,632.5 257.3,638.1 249.9,638.1" fill="#943e8c" stroke="#943e8c" stroke-width="0.4"/><polygon points="255.8,613.7 263.8,613.7 261.3,620.9" fill="#782e70" stroke="#782e70" stroke-width="0.4"/><polygon points="255.8,613.7 261.3,620.9 257.0,620.6" fill="#c072b8" stroke="#c072b8" stroke-width="0.4"/><polygon points="257.0,620.6 261.3,620.9 259.9,627.4" fill="#aa52a2" stroke="#aa52a2" stroke-width="0.4"/><polygon points="257.0,620.6 259.9,627.4 255.8,623.8" fill="#c072b8" stroke="#c072b8" stroke-width="0.4"/><polygon points="255.8,623.8 259.9,627.4 259.9,633.4" fill="#c072b8" stroke="#c072b8" stroke-width="0.4"/><polygon points="255.8,623.8 259.9,633.4 254.5,630.4" fill="#aa52a2" stroke="#aa52a2" stroke-width="0.4"/><polygon points="254.5,630.4 259.9,633.4 262.4,638.1" fill="#782e70" stroke="#782e70" stroke-width="0.4"/><polygon points="254.5,630.4 262.4,638.1 257.3,638.1" fill="#782e70" stroke="#782e70" stroke-width="0.4"/><polygon points="263.8,613.7 267.9,613.7 267.9,621.4" fill="#c072b8" stroke="#c072b8" stroke-width="0.4"/><polygon points="263.8,613.7 267.9,621.4 261.3,620.9" fill="#aa52a2" stroke="#aa52a2" stroke-width="0.4"/><polygon points="261.3,620.9 267.9,621.4 267.9,627.0" fill="#943e8c" stroke="#943e8c" stroke-width="0.4"/><polygon points="261.3,620.9 267.9,627.0 259.9,627.4" fill="#c072b8" stroke="#c072b8" stroke-width="0.4"/><polygon points="259.9,627.4 267.9,627.0 267.9,631.8" fill="#c072b8" stroke="#c072b8" stroke-width="0.4"/><polygon points="259.9,627.4 267.9,631.8 259.9,633.4" fill="#782e70" stroke="#782e70" stroke-width="0.4"/><polygon points="259.9,633.4 267.9,631.8 267.9,638.1" fill="#aa52a2" stroke="#aa52a2" stroke-width="0.4"/><polygon points="259.9,633.4 267.9,638.1 262.4,638.1" fill="#dca0d6" stroke="#dca0d6" stroke-width="0.4"/></g><circle cx="255.7" cy="625.9" r="12.2" fill="url(#gEdge)" stroke="#2c2c38" stroke-width="0.8"/>
<circle cx="281.3" cy="628" r="12.2" fill="#a496d0"/><clipPath id="gc10"><ellipse cx="281.3" cy="628" rx="12.2" ry="12.2"/></clipPath><g clip-path="url(#gc10)"><polygon points="269.1,615.8 274.3,615.8 274.7,623.6" fill="#7464a8" stroke="#7464a8" stroke-width="0.4"/><polygon points="269.1,615.8 274.7,623.6 269.1,621.1" fill="#7464a8" stroke="#7464a8" stroke-width="0.4"/><polygon points="269.1,621.1 274.7,623.6 274.6,628.4" fill="#7464a8" stroke="#7464a8" stroke-width="0.4"/><polygon points="269.1,621.1 274.6,628.4 269.1,629.2" fill="#c0b4e4" stroke="#c0b4e4" stroke-width="0.4"/><polygon points="269.1,629.2 274.6,628.4 273.5,632.7" fill="#9080c0" stroke="#9080c0" stroke-width="0.4"/><polygon points="269.1,629.2 273.5,632.7 269.1,632.3" fill="#c0b4e4" stroke="#c0b4e4" stroke-width="0.4"/><polygon points="269.1,632.3 273.5,632.7 276.1,640.2" fill="#e0d8f4" stroke="#e0d8f4" stroke-width="0.4"/><polygon points="269.1,632.3 276.1,640.2 269.1,640.2" fill="#a496d0" stroke="#a496d0" stroke-width="0.4"/><polygon points="274.3,615.8 281.5,615.8 282.2,621.7" fill="#9080c0" stroke="#9080c0" stroke-width="0.4"/><polygon points="274.3,615.8 282.2,621.7 274.7,623.6" fill="#7464a8" stroke="#7464a8" stroke-width="0.4"/><polygon points="274.7,623.6 282.2,621.7 281.3,626.7" fill="#e0d8f4" stroke="#e0d8f4" stroke-width="0.4"/><polygon points="274.7,623.6 281.3,626.7 274.6,628.4" fill="#a496d0" stroke="#a496d0" stroke-width="0.4"/><polygon points="274.6,628.4 281.3,626.7 280.1,632.2" fill="#9080c0" stroke="#9080c0" stroke-width="0.4"/><polygon points="274.6,628.4 280.1,632.2 273.5,632.7" fill="#e0d8f4" stroke="#e0d8f4" stroke-width="0.4"/><polygon points="273.5,632.7 280.1,632.2 279.9,640.2" fill="#7464a8" stroke="#7464a8" stroke-width="0.4"/><polygon points="273.5,632.7 279.9,640.2 276.1,640.2" fill="#c0b4e4" stroke="#c0b4e4" stroke-width="0.4"/><polygon points="281.5,615.8 287.2,615.8 287.8,622.9" fill="#7464a8" stroke="#7464a8" stroke-width="0.4"/><polygon points="281.5,615.8 287.8,622.9 282.2,621.7" fill="#9080c0" stroke="#9080c0" stroke-width="0.4"/><polygon points="282.2,621.7 287.8,622.9 288.0,629.3" fill="#9080c0" stroke="#9080c0" stroke-width="0.4"/><polygon points="282.2,621.7 288.0,629.3 281.3,626.7" fill="#e0d8f4" stroke="#e0d8f4" stroke-width="0.4"/><polygon points="281.3,626.7 288.0,629.3 288.4,632.0" fill="#9080c0" stroke="#9080c0" stroke-width="0.4"/><polygon points="281.3,626.7 288.4,632.0 280.1,632.2" fill="#a496d0" stroke="#a496d0" stroke-width="0.4"/><polygon points="280.1,632.2 288.4,632.0 289.1,640.2" fill="#c0b4e4" stroke="#c0b4e4" stroke-width="0.4"/><polygon points="280.1,632.2 289.1,640.2 279.9,640.2" fill="#a496d0" stroke="#a496d0" stroke-width="0.4"/><polygon points="287.2,615.8 293.5,615.8 293.5,621.9" fill="#c0b4e4" stroke="#c0b4e4" stroke-width="0.4"/><polygon points="287.2,615.8 293.5,621.9 287.8,622.9" fill="#c0b4e4" stroke="#c0b4e4" stroke-width="0.4"/><polygon points="287.8,622.9 293.5,621.9 293.5,627.7" fill="#7464a8" stroke="#7464a8" stroke-width="0.4"/><polygon points="287.8,622.9 293.5,627.7 288.0,629.3" fill="#7464a8" stroke="#7464a8" stroke-width="0.4"/><polygon points="288.0,629.3 293.5,627.7 293.5,632.3" fill="#9080c0" stroke="#9080c0" stroke-width="0.4"/><polygon points="288.0,629.3 293.5,632.3 288.4,632.0" fill="#9080c0" stroke="#9080c0" stroke-width="0.4"/><polygon points="288.4,632.0 293.5,632.3 293.5,640.2" fill="#c0b4e4" stroke="#c0b4e4" stroke-width="0.4"/><polygon points="288.4,632.0 293.5,640.2 289.1,640.2" fill="#7464a8" stroke="#7464a8" stroke-width="0.4"/></g><circle cx="281.3" cy="628" r="12.2" fill="url(#gEdge)" stroke="#2c2c38" stroke-width="0.8"/>
<circle cx="305.9" cy="632.3" r="12.2" fill="#7886d4"/><clipPath id="gc11"><ellipse cx="305.9" cy="632.3" rx="12.2" ry="12.2"/></clipPath><g clip-path="url(#gc11)"><polygon points="293.7,620.1 300.7,620.1 301.1,624.4" fill="#5e6cc0" stroke="#5e6cc0" stroke-width="0.4"/><polygon points="293.7,620.1 301.1,624.4 293.7,626.0" fill="#98a6e8" stroke="#98a6e8" stroke-width="0.4"/><polygon points="293.7,626.0 301.1,624.4 299.4,632.7" fill="#5e6cc0" stroke="#5e6cc0" stroke-width="0.4"/><polygon points="293.7,626.0 299.4,632.7 293.7,632.1" fill="#4650a0" stroke="#4650a0" stroke-width="0.4"/><polygon points="293.7,632.1 299.4,632.7 299.7,636.8" fill="#5e6cc0" stroke="#5e6cc0" stroke-width="0.4"/><polygon points="293.7,632.1 299.7,636.8 293.7,640.3" fill="#7886d4" stroke="#7886d4" stroke-width="0.4"/><polygon points="293.7,640.3 299.7,636.8 299.5,644.5" fill="#5e6cc0" stroke="#5e6cc0" stroke-width="0.4"/><polygon points="293.7,640.3 299.5,644.5 293.7,644.5" fill="#5e6cc0" stroke="#5e6cc0" stroke-width="0.4"/><polygon points="300.7,620.1 305.8,620.1 307.7,627.9" fill="#98a6e8" stroke="#98a6e8" stroke-width="0.4"/><polygon points="300.7,620.1 307.7,627.9 301.1,624.4" fill="#7886d4" stroke="#7886d4" stroke-width="0.4"/><polygon points="301.1,624.4 307.7,627.9 304.9,633.3" fill="#5e6cc0" stroke="#5e6cc0" stroke-width="0.4"/><polygon points="301.1,624.4 304.9,633.3 299.4,632.7" fill="#5e6cc0" stroke="#5e6cc0" stroke-width="0.4"/><polygon points="299.4,632.7 304.9,633.3 304.9,638.0" fill="#5e6cc0" stroke="#5e6cc0" stroke-width="0.4"/><polygon points="299.4,632.7 304.9,638.0 299.7,636.8" fill="#7886d4" stroke="#7886d4" stroke-width="0.4"/><polygon points="299.7,636.8 304.9,638.0 304.1,644.5" fill="#5e6cc0" stroke="#5e6cc0" stroke-width="0.4"/><polygon points="299.7,636.8 304.1,644.5 299.5,644.5" fill="#5e6cc0" stroke="#5e6cc0" stroke-width="0.4"/><polygon points="305.8,620.1 311.3,620.1 312.5,627.1" fill="#4650a0" stroke="#4650a0" stroke-width="0.4"/><polygon points="305.8,620.1 312.5,627.1 307.7,627.9" fill="#5e6cc0" stroke="#5e6cc0" stroke-width="0.4"/><polygon points="307.7,627.9 312.5,627.1 312.4,633.4" fill="#4650a0" stroke="#4650a0" stroke-width="0.4"/><polygon points="307.7,627.9 312.4,633.4 304.9,633.3" fill="#4650a0" stroke="#4650a0" stroke-width="0.4"/><polygon points="304.9,633.3 312.4,633.4 311.7,639.4" fill="#7886d4" stroke="#7886d4" stroke-width="0.4"/><polygon points="304.9,633.3 311.7,639.4 304.9,638.0" fill="#7886d4" stroke="#7886d4" stroke-width="0.4"/><polygon points="304.9,638.0 311.7,639.4 310.7,644.5" fill="#7886d4" stroke="#7886d4" stroke-width="0.4"/><polygon points="304.9,638.0 310.7,644.5 304.1,644.5" fill="#7886d4" stroke="#7886d4" stroke-width="0.4"/><polygon points="311.3,620.1 318.1,620.1 318.1,624.8" fill="#7886d4" stroke="#7886d4" stroke-width="0.4"/><polygon points="311.3,620.1 318.1,624.8 312.5,627.1" fill="#4650a0" stroke="#4650a0" stroke-width="0.4"/><polygon points="312.5,627.1 318.1,624.8 318.1,631.9" fill="#c0caf4" stroke="#c0caf4" stroke-width="0.4"/><polygon points="312.5,627.1 318.1,631.9 312.4,633.4" fill="#98a6e8" stroke="#98a6e8" stroke-width="0.4"/><polygon points="312.4,633.4 318.1,631.9 318.1,639.7" fill="#4650a0" stroke="#4650a0" stroke-width="0.4"/><polygon points="312.4,633.4 318.1,639.7 311.7,639.4" fill="#7886d4" stroke="#7886d4" stroke-width="0.4"/><polygon points="311.7,639.4 318.1,639.7 318.1,644.5" fill="#98a6e8" stroke="#98a6e8" stroke-width="0.4"/><polygon points="311.7,639.4 318.1,644.5 310.7,644.5" fill="#98a6e8" stroke="#98a6e8" stroke-width="0.4"/></g><circle cx="305.9" cy="632.3" r="12.2" fill="url(#gEdge)" stroke="#2c2c38" stroke-width="0.8"/>
<circle cx="229" cy="660.5" r="12.2" fill="#7886d4"/><clipPath id="gc12"><ellipse cx="229" cy="660.5" rx="12.2" ry="12.2"/></clipPath><g clip-path="url(#gc12)"><polygon points="216.8,648.3 222.3,648.3 221.8,655.8" fill="#98a6e8" stroke="#98a6e8" stroke-width="0.4"/><polygon points="216.8,648.3 221.8,655.8 216.8,654.9" fill="#98a6e8" stroke="#98a6e8" stroke-width="0.4"/><polygon points="216.8,654.9 221.8,655.8 221.2,659.3" fill="#5e6cc0" stroke="#5e6cc0" stroke-width="0.4"/><polygon points="216.8,654.9 221.2,659.3 216.8,659.3" fill="#98a6e8" stroke="#98a6e8" stroke-width="0.4"/><polygon points="216.8,659.3 221.2,659.3 221.2,664.9" fill="#7886d4" stroke="#7886d4" stroke-width="0.4"/><polygon points="216.8,659.3 221.2,664.9 216.8,664.5" fill="#7886d4" stroke="#7886d4" stroke-width="0.4"/><polygon points="216.8,664.5 221.2,664.9 223.7,672.7" fill="#4650a0" stroke="#4650a0" stroke-width="0.4"/><polygon points="216.8,664.5 223.7,672.7 216.8,672.7" fill="#4650a0" stroke="#4650a0" stroke-width="0.4"/><polygon points="222.3,648.3 230.6,648.3 228.5,653.9" fill="#7886d4" stroke="#7886d4" stroke-width="0.4"/><polygon points="222.3,648.3 228.5,653.9 221.8,655.8" fill="#c0caf4" stroke="#c0caf4" stroke-width="0.4"/><polygon points="221.8,655.8 228.5,653.9 228.1,661.3" fill="#98a6e8" stroke="#98a6e8" stroke-width="0.4"/><polygon points="221.8,655.8 228.1,661.3 221.2,659.3" fill="#98a6e8" stroke="#98a6e8" stroke-width="0.4"/><polygon points="221.2,659.3 228.1,661.3 227.3,666.5" fill="#7886d4" stroke="#7886d4" stroke-width="0.4"/><polygon points="221.2,659.3 227.3,666.5 221.2,664.9" fill="#4650a0" stroke="#4650a0" stroke-width="0.4"/><polygon points="221.2,664.9 227.3,666.5 227.6,672.7" fill="#7886d4" stroke="#7886d4" stroke-width="0.4"/><polygon points="221.2,664.9 227.6,672.7 223.7,672.7" fill="#5e6cc0" stroke="#5e6cc0" stroke-width="0.4"/><polygon points="230.6,648.3 236.6,648.3 235.7,655.4" fill="#c0caf4" stroke="#c0caf4" stroke-width="0.4"/><polygon points="230.6,648.3 235.7,655.4 228.5,653.9" fill="#7886d4" stroke="#7886d4" stroke-width="0.4"/><polygon points="228.5,653.9 235.7,655.4 234.4,659.8" fill="#7886d4" stroke="#7886d4" stroke-width="0.4"/><polygon points="228.5,653.9 234.4,659.8 228.1,661.3" fill="#7886d4" stroke="#7886d4" stroke-width="0.4"/><polygon points="228.1,661.3 234.4,659.8 236.9,666.9" fill="#4650a0" stroke="#4650a0" stroke-width="0.4"/><polygon points="228.1,661.3 236.9,666.9 227.3,666.5" fill="#5e6cc0" stroke="#5e6cc0" stroke-width="0.4"/><polygon points="227.3,666.5 236.9,666.9 235.5,672.7" fill="#7886d4" stroke="#7886d4" stroke-width="0.4"/><polygon points="227.3,666.5 235.5,672.7 227.6,672.7" fill="#5e6cc0" stroke="#5e6cc0" stroke-width="0.4"/><polygon points="236.6,648.3 241.2,648.3 241.2,653.3" fill="#5e6cc0" stroke="#5e6cc0" stroke-width="0.4"/><polygon points="236.6,648.3 241.2,653.3 235.7,655.4" fill="#4650a0" stroke="#4650a0" stroke-width="0.4"/><polygon points="235.7,655.4 241.2,653.3 241.2,662.1" fill="#5e6cc0" stroke="#5e6cc0" stroke-width="0.4"/><polygon points="235.7,655.4 241.2,662.1 234.4,659.8" fill="#c0caf4" stroke="#c0caf4" stroke-width="0.4"/><polygon points="234.4,659.8 241.2,662.1 241.2,668.2" fill="#98a6e8" stroke="#98a6e8" stroke-width="0.4"/><polygon points="234.4,659.8 241.2,668.2 236.9,666.9" fill="#7886d4" stroke="#7886d4" stroke-width="0.4"/><polygon points="236.9,666.9 241.2,668.2 241.2,672.7" fill="#7886d4" stroke="#7886d4" stroke-width="0.4"/><polygon points="236.9,666.9 241.2,672.7 235.5,672.7" fill="#7886d4" stroke="#7886d4" stroke-width="0.4"/></g><circle cx="229" cy="660.5" r="12.2" fill="url(#gEdge)" stroke="#2c2c38" stroke-width="0.8"/>
<circle cx="250.7" cy="671.5" r="12.2" fill="#a49a80"/><clipPath id="gc13"><ellipse cx="250.7" cy="671.5" rx="12.2" ry="12.2"/></clipPath><g clip-path="url(#gc13)"><polygon points="238.5,659.3 243.8,659.3 243.5,664.4" fill="#645c48" stroke="#645c48" stroke-width="0.4"/><polygon points="238.5,659.3 243.5,664.4 238.5,666.6" fill="#887e68" stroke="#887e68" stroke-width="0.4"/><polygon points="238.5,666.6 243.5,664.4 243.0,672.8" fill="#645c48" stroke="#645c48" stroke-width="0.4"/><polygon points="238.5,666.6 243.0,672.8 238.5,673.3" fill="#887e68" stroke="#887e68" stroke-width="0.4"/><polygon points="238.5,673.3 243.0,672.8 242.5,679.3" fill="#e0d8c4" stroke="#e0d8c4" stroke-width="0.4"/><polygon points="238.5,673.3 242.5,679.3 238.5,678.0" fill="#645c48" stroke="#645c48" stroke-width="0.4"/><polygon points="238.5,678.0 242.5,679.3 243.8,683.7" fill="#a49a80" stroke="#a49a80" stroke-width="0.4"/><polygon points="238.5,678.0 243.8,683.7 238.5,683.7" fill="#887e68" stroke="#887e68" stroke-width="0.4"/><polygon points="243.8,659.3 250.7,659.3 250.8,665.7" fill="#887e68" stroke="#887e68" stroke-width="0.4"/><polygon points="243.8,659.3 250.8,665.7 243.5,664.4" fill="#a49a80" stroke="#a49a80" stroke-width="0.4"/><polygon points="243.5,664.4 250.8,665.7 248.6,672.9" fill="#645c48" stroke="#645c48" stroke-width="0.4"/><polygon points="243.5,664.4 248.6,672.9 243.0,672.8" fill="#887e68" stroke="#887e68" stroke-width="0.4"/><polygon points="243.0,672.8 248.6,672.9 250.5,676.2" fill="#887e68" stroke="#887e68" stroke-width="0.4"/><polygon points="243.0,672.8 250.5,676.2 242.5,679.3" fill="#645c48" stroke="#645c48" stroke-width="0.4"/><polygon points="242.5,679.3 250.5,676.2 250.5,683.7" fill="#c0b8a0" stroke="#c0b8a0" stroke-width="0.4"/><polygon points="242.5,679.3 250.5,683.7 243.8,683.7" fill="#887e68" stroke="#887e68" stroke-width="0.4"/><polygon points="250.7,659.3 255.4,659.3 255.4,663.3" fill="#a49a80" stroke="#a49a80" stroke-width="0.4"/><polygon points="250.7,659.3 255.4,663.3 250.8,665.7" fill="#a49a80" stroke="#a49a80" stroke-width="0.4"/><polygon points="250.8,665.7 255.4,663.3 256.6,669.4" fill="#c0b8a0" stroke="#c0b8a0" stroke-width="0.4"/><polygon points="250.8,665.7 256.6,669.4 248.6,672.9" fill="#a49a80" stroke="#a49a80" stroke-width="0.4"/><polygon points="248.6,672.9 256.6,669.4 256.6,677.8" fill="#645c48" stroke="#645c48" stroke-width="0.4"/><polygon points="248.6,672.9 256.6,677.8 250.5,676.2" fill="#e0d8c4" stroke="#e0d8c4" stroke-width="0.4"/><polygon points="250.5,676.2 256.6,677.8 257.1,683.7" fill="#e0d8c4" stroke="#e0d8c4" stroke-width="0.4"/><polygon points="250.5,676.2 257.1,683.7 250.5,683.7" fill="#a49a80" stroke="#a49a80" stroke-width="0.4"/><polygon points="255.4,659.3 262.9,659.3 262.9,664.8" fill="#645c48" stroke="#645c48" stroke-width="0.4"/><polygon points="255.4,659.3 262.9,664.8 255.4,663.3" fill="#a49a80" stroke="#a49a80" stroke-width="0.4"/><polygon points="255.4,663.3 262.9,664.8 262.9,669.5" fill="#645c48" stroke="#645c48" stroke-width="0.4"/><polygon points="255.4,663.3 262.9,669.5 256.6,669.4" fill="#e0d8c4" stroke="#e0d8c4" stroke-width="0.4"/><polygon points="256.6,669.4 262.9,669.5 262.9,677.7" fill="#645c48" stroke="#645c48" stroke-width="0.4"/><polygon points="256.6,669.4 262.9,677.7 256.6,677.8" fill="#887e68" stroke="#887e68" stroke-width="0.4"/><polygon points="256.6,677.8 262.9,677.7 262.9,683.7" fill="#a49a80" stroke="#a49a80" stroke-width="0.4"/><polygon points="256.6,677.8 262.9,683.7 257.1,683.7" fill="#645c48" stroke="#645c48" stroke-width="0.4"/></g><circle cx="250.7" cy="671.5" r="12.2" fill="url(#gEdge)" stroke="#2c2c38" stroke-width="0.8"/>
<circle cx="274.6" cy="679.2" r="12.2" fill="#289a66"/><clipPath id="gc14"><ellipse cx="274.6" cy="679.2" rx="12.2" ry="12.2"/></clipPath><g clip-path="url(#gc14)"><polygon points="262.4,667.0 267.7,667.0 267.3,674.5" fill="#289a66" stroke="#289a66" stroke-width="0.4"/><polygon points="262.4,667.0 267.3,674.5 262.4,671.4" fill="#1c8456" stroke="#1c8456" stroke-width="0.4"/><polygon points="262.4,671.4 267.3,674.5 268.6,677.5" fill="#289a66" stroke="#289a66" stroke-width="0.4"/><polygon points="262.4,671.4 268.6,677.5 262.4,680.3" fill="#80d4ae" stroke="#80d4ae" stroke-width="0.4"/><polygon points="262.4,680.3 268.6,677.5 269.1,687.0" fill="#48b484" stroke="#48b484" stroke-width="0.4"/><polygon points="262.4,680.3 269.1,687.0 262.4,683.2" fill="#289a66" stroke="#289a66" stroke-width="0.4"/><polygon points="262.4,683.2 269.1,687.0 266.7,691.4" fill="#1c8456" stroke="#1c8456" stroke-width="0.4"/><polygon points="262.4,683.2 266.7,691.4 262.4,691.4" fill="#125a3c" stroke="#125a3c" stroke-width="0.4"/><polygon points="267.7,667.0 275.1,667.0 275.5,675.1" fill="#1c8456" stroke="#1c8456" stroke-width="0.4"/><polygon points="267.7,667.0 275.5,675.1 267.3,674.5" fill="#289a66" stroke="#289a66" stroke-width="0.4"/><polygon points="267.3,674.5 275.5,675.1 276.4,681.2" fill="#1c8456" stroke="#1c8456" stroke-width="0.4"/><polygon points="267.3,674.5 276.4,681.2 268.6,677.5" fill="#48b484" stroke="#48b484" stroke-width="0.4"/><polygon points="268.6,677.5 276.4,681.2 272.5,683.4" fill="#1c8456" stroke="#1c8456" stroke-width="0.4"/><polygon points="268.6,677.5 272.5,683.4 269.1,687.0" fill="#48b484" stroke="#48b484" stroke-width="0.4"/><polygon points="269.1,687.0 272.5,683.4 275.2,691.4" fill="#289a66" stroke="#289a66" stroke-width="0.4"/><polygon points="269.1,687.0 275.2,691.4 266.7,691.4" fill="#125a3c" stroke="#125a3c" stroke-width="0.4"/><polygon points="275.1,667.0 281.0,667.0 281.7,674.8" fill="#48b484" stroke="#48b484" stroke-width="0.4"/><polygon points="275.1,667.0 281.7,674.8 275.5,675.1" fill="#1c8456" stroke="#1c8456" stroke-width="0.4"/><polygon points="275.5,675.1 281.7,674.8 280.2,680.4" fill="#48b484" stroke="#48b484" stroke-width="0.4"/><polygon points="275.5,675.1 280.2,680.4 276.4,681.2" fill="#48b484" stroke="#48b484" stroke-width="0.4"/><polygon points="276.4,681.2 280.2,680.4 282.0,685.8" fill="#1c8456" stroke="#1c8456" stroke-width="0.4"/><polygon points="276.4,681.2 282.0,685.8 272.5,683.4" fill="#48b484" stroke="#48b484" stroke-width="0.4"/><polygon points="272.5,683.4 282.0,685.8 280.0,691.4" fill="#125a3c" stroke="#125a3c" stroke-width="0.4"/><polygon points="272.5,683.4 280.0,691.4 275.2,691.4" fill="#1c8456" stroke="#1c8456" stroke-width="0.4"/><polygon points="281.0,667.0 286.8,667.0 286.8,674.6" fill="#289a66" stroke="#289a66" stroke-width="0.4"/><polygon points="281.0,667.0 286.8,674.6 281.7,674.8" fill="#289a66" stroke="#289a66" stroke-width="0.4"/><polygon points="281.7,674.8 286.8,674.6 286.8,678.8" fill="#289a66" stroke="#289a66" stroke-width="0.4"/><polygon points="281.7,674.8 286.8,678.8 280.2,680.4" fill="#1c8456" stroke="#1c8456" stroke-width="0.4"/><polygon points="280.2,680.4 286.8,678.8 286.8,686.6" fill="#125a3c" stroke="#125a3c" stroke-width="0.4"/><polygon points="280.2,680.4 286.8,686.6 282.0,685.8" fill="#289a66" stroke="#289a66" stroke-width="0.4"/><polygon points="282.0,685.8 286.8,686.6 286.8,691.4" fill="#48b484" stroke="#48b484" stroke-width="0.4"/><polygon points="282.0,685.8 286.8,691.4 280.0,691.4" fill="#48b484" stroke="#48b484" stroke-width="0.4"/></g><circle cx="274.6" cy="679.2" r="12.2" fill="url(#gEdge)" stroke="#2c2c38" stroke-width="0.8"/>
<circle cx="39.2" cy="620.5" r="4.9" fill="#f4f4f4" stroke="#8a8a8a" stroke-width="0.7"/>
<circle cx="68" cy="608.8" r="4.9" fill="#f4f4f4" stroke="#8a8a8a" stroke-width="0.7"/>
<circle cx="68" cy="630.1" r="4.9" fill="#f4f4f4" stroke="#8a8a8a" stroke-width="0.7"/>
<circle cx="96.8" cy="609.9" r="4.9" fill="#f4f4f4" stroke="#8a8a8a" stroke-width="0.7"/>
<circle cx="95.7" cy="630.1" r="4.9" fill="#f4f4f4" stroke="#8a8a8a" stroke-width="0.7"/>
<circle cx="124.5" cy="613" r="4.9" fill="#f4f4f4" stroke="#8a8a8a" stroke-width="0.7"/>
<circle cx="122.4" cy="631.2" r="4.9" fill="#f4f4f4" stroke="#8a8a8a" stroke-width="0.7"/>
<circle cx="150.1" cy="623.7" r="4.9" fill="#f4f4f4" stroke="#8a8a8a" stroke-width="0.7"/>
<circle cx="70.1" cy="677.1" r="4.9" fill="#f4f4f4" stroke="#8a8a8a" stroke-width="0.7"/>
<circle cx="95.7" cy="658.9" r="4.9" fill="#f4f4f4" stroke="#8a8a8a" stroke-width="0.7"/>
<circle cx="100" cy="678.1" r="4.9" fill="#f4f4f4" stroke="#8a8a8a" stroke-width="0.7"/>
<circle cx="120.3" cy="653.6" r="4.9" fill="#f4f4f4" stroke="#8a8a8a" stroke-width="0.7"/>
<circle cx="125.6" cy="670.7" r="4.9" fill="#f4f4f4" stroke="#8a8a8a" stroke-width="0.7"/>
<circle cx="148" cy="649.3" r="4.9" fill="#f4f4f4" stroke="#8a8a8a" stroke-width="0.7"/>
<circle cx="213" cy="624.8" r="4.9" fill="#f4f4f4" stroke="#8a8a8a" stroke-width="0.7"/>
<circle cx="239.7" cy="617.3" r="4.9" fill="#f4f4f4" stroke="#8a8a8a" stroke-width="0.7"/>
<circle cx="241.9" cy="634.4" r="4.9" fill="#f4f4f4" stroke="#8a8a8a" stroke-width="0.7"/>
<circle cx="267.5" cy="617.3" r="4.9" fill="#f4f4f4" stroke="#8a8a8a" stroke-width="0.7"/>
<circle cx="267.5" cy="636.5" r="4.9" fill="#f4f4f4" stroke="#8a8a8a" stroke-width="0.7"/>
<circle cx="293" cy="620.5" r="4.9" fill="#f4f4f4" stroke="#8a8a8a" stroke-width="0.7"/>
<circle cx="292" cy="639.7" r="4.9" fill="#f4f4f4" stroke="#8a8a8a" stroke-width="0.7"/>
<circle cx="318.7" cy="635.5" r="4.9" fill="#f4f4f4" stroke="#8a8a8a" stroke-width="0.7"/>
<circle cx="215.2" cy="650.4" r="4.9" fill="#f4f4f4" stroke="#8a8a8a" stroke-width="0.7"/>
<circle cx="241.9" cy="657.9" r="4.9" fill="#f4f4f4" stroke="#8a8a8a" stroke-width="0.7"/>
<circle cx="235.5" cy="674.9" r="4.9" fill="#f4f4f4" stroke="#8a8a8a" stroke-width="0.7"/>
<circle cx="264.3" cy="665.3" r="4.9" fill="#f4f4f4" stroke="#8a8a8a" stroke-width="0.7"/>
<circle cx="259" cy="684.5" r="4.9" fill="#f4f4f4" stroke="#8a8a8a" stroke-width="0.7"/>
<circle cx="286.7" cy="686.7" r="4.9" fill="#f4f4f4" stroke="#8a8a8a" stroke-width="0.7"/>
<path fill="url(#gSil)" stroke="#555" stroke-width="1.1" d="M224,773 L205.9,751.6 L212.5,748.7 L228.5,770 Z"/>
<path fill="url(#gSil)" stroke="#555" stroke-width="1.1" d="M188.4,724 C195,735 200,745 205.9,751.6 L212.5,749 C210,740 208,730 205.9,722 Z"/>
<path fill="url(#gSil)" stroke="#555" stroke-width="1.1" d="M176,684 C180,700 184,712 188.4,723 L206,720 C205,708 203,695 202,682 Z"/>
<path stroke="#2a2a2a" stroke-width="1.1" fill="none" d="M190,684 C192,698 195,710 197,721"/>
<path fill="url(#gSil)" stroke="#555" stroke-width="1.1" d="M168,668 C168,662 176,660 186,660 C196,660 203,664 203,670 L203,682 C196,686 178,686 170,682 Z"/>
<circle cx="176.5" cy="675" r="7.5" fill="url(#gBall)" stroke="#666" stroke-width="0.8"/>
<path stroke="#222" stroke-width="1.1" d="M177,668 L177,682"/>
<ellipse cx="184" cy="503" rx="29.3" ry="22" fill="url(#gBeadL)" stroke="#707070" stroke-width="1.2"/>
<path fill="#9c9c9c" fill-opacity="0.55" d="M156,508 C162,521 185,525 195,508 C185,515 165,515 156,508 Z"/>
<path fill="none" stroke="#5a5a5a" stroke-width="1.4" d="M155.8,508.5 C162,521 185,525 194.7,508.5"/>
<path fill="none" stroke="#f8f8f8" stroke-width="2" d="M203,500 C205,508 203,514 199,518"/>
<path fill="#e6e6e6" fill-rule="evenodd" stroke="#505050" stroke-width="1.3" d="M150.3,561 A25.2,19.2 0 1,1 200.7,561 A25.2,19.2 0 1,1 150.3,561 Z M159.5,563 A16,11.5 0 1,0 191.5,563 A16,11.5 0 1,0 159.5,563 Z"/>
<ellipse cx="175.5" cy="562" rx="20.5" ry="15" fill="none" stroke="#6a6a6a" stroke-width="1"/>
<path fill="url(#gSil)" stroke="#555" stroke-width="1.2" d="M169,522 L184,522 L182.5,561 C182.5,568 167.5,568 167.5,561 Z"/>
<path stroke="#3a3a3a" stroke-width="1.2" d="M176.5,530 L175.5,560"/>
<ellipse cx="178.7" cy="632.7" rx="25.5" ry="35" fill="#16aa84"/>
<clipPath id="tealclip"><ellipse cx="178.7" cy="632.7" rx="25.5" ry="35"/></clipPath><g clip-path="url(#tealclip)"><polygon points="153.2,597.7 158.9,597.7 161.3,603.1" fill="#086c54" stroke="#086c54" stroke-width="0.4"/><polygon points="153.2,597.7 161.3,603.1 153.2,604.5" fill="#16aa84" stroke="#16aa84" stroke-width="0.4"/><polygon points="153.2,604.5 161.3,603.1 159.3,612.8" fill="#16aa84" stroke="#16aa84" stroke-width="0.4"/><polygon points="153.2,604.5 159.3,612.8 153.2,611.4" fill="#16aa84" stroke="#16aa84" stroke-width="0.4"/><polygon points="153.2,611.4 159.3,612.8 163.6,619.0" fill="#a4f2dc" stroke="#a4f2dc" stroke-width="0.4"/><polygon points="153.2,611.4 163.6,619.0 153.2,621.9" fill="#2ec49c" stroke="#2ec49c" stroke-width="0.4"/><polygon points="153.2,621.9 163.6,619.0 160.1,629.5" fill="#16aa84" stroke="#16aa84" stroke-width="0.4"/><polygon points="153.2,621.9 160.1,629.5 153.2,626.5" fill="#2ec49c" stroke="#2ec49c" stroke-width="0.4"/><polygon points="153.2,626.5 160.1,629.5 164.4,637.0" fill="#2ec49c" stroke="#2ec49c" stroke-width="0.4"/><polygon points="153.2,626.5 164.4,637.0 153.2,636.8" fill="#086c54" stroke="#086c54" stroke-width="0.4"/><polygon points="153.2,636.8 164.4,637.0 161.1,647.0" fill="#62dec0" stroke="#62dec0" stroke-width="0.4"/><polygon points="153.2,636.8 161.1,647.0 153.2,643.6" fill="#2ec49c" stroke="#2ec49c" stroke-width="0.4"/><polygon points="153.2,643.6 161.1,647.0 159.0,654.1" fill="#62dec0" stroke="#62dec0" stroke-width="0.4"/><polygon points="153.2,643.6 159.0,654.1 153.2,649.7" fill="#2ec49c" stroke="#2ec49c" stroke-width="0.4"/><polygon points="153.2,649.7 159.0,654.1 160.4,658.0" fill="#16aa84" stroke="#16aa84" stroke-width="0.4"/><polygon points="153.2,649.7 160.4,658.0 153.2,660.0" fill="#16aa84" stroke="#16aa84" stroke-width="0.4"/><polygon points="153.2,660.0 160.4,658.0 159.4,667.7" fill="#086c54" stroke="#086c54" stroke-width="0.4"/><polygon points="153.2,660.0 159.4,667.7 153.2,667.7" fill="#2ec49c" stroke="#2ec49c" stroke-width="0.4"/><polygon points="158.9,597.7 169.1,597.7 172.1,603.7" fill="#086c54" stroke="#086c54" stroke-width="0.4"/><polygon points="158.9,597.7 172.1,603.7 161.3,603.1" fill="#086c54" stroke="#086c54" stroke-width="0.4"/><polygon points="161.3,603.1 172.1,603.7 170.7,614.0" fill="#0e926e" stroke="#0e926e" stroke-width="0.4"/><polygon points="161.3,603.1 170.7,614.0 159.3,612.8" fill="#0e926e" stroke="#0e926e" stroke-width="0.4"/><polygon points="159.3,612.8 170.7,614.0 169.4,621.3" fill="#16aa84" stroke="#16aa84" stroke-width="0.4"/><polygon points="159.3,612.8 169.4,621.3 163.6,619.0" fill="#086c54" stroke="#086c54" stroke-width="0.4"/><polygon points="163.6,619.0 169.4,621.3 167.6,626.4" fill="#086c54" stroke="#086c54" stroke-width="0.4"/><polygon points="163.6,619.0 167.6,626.4 160.1,629.5" fill="#0e926e" stroke="#0e926e" stroke-width="0.4"/><polygon points="160.1,629.5 167.6,626.4 168.5,637.6" fill="#086c54" stroke="#086c54" stroke-width="0.4"/><polygon points="160.1,629.5 168.5,637.6 164.4,637.0" fill="#16aa84" stroke="#16aa84" stroke-width="0.4"/><polygon points="164.4,637.0 168.5,637.6 169.8,643.4" fill="#086c54" stroke="#086c54" stroke-width="0.4"/><polygon points="164.4,637.0 169.8,643.4 161.1,647.0" fill="#62dec0" stroke="#62dec0" stroke-width="0.4"/><polygon points="161.1,647.0 169.8,643.4 170.7,651.9" fill="#2ec49c" stroke="#2ec49c" stroke-width="0.4"/><polygon points="161.1,647.0 170.7,651.9 159.0,654.1" fill="#0e926e" stroke="#0e926e" stroke-width="0.4"/><polygon points="159.0,654.1 170.7,651.9 169.0,661.5" fill="#0e926e" stroke="#0e926e" stroke-width="0.4"/><polygon points="159.0,654.1 169.0,661.5 160.4,658.0" fill="#16aa84" stroke="#16aa84" stroke-width="0.4"/><polygon points="160.4,658.0 169.0,661.5 171.4,667.7" fill="#16aa84" stroke="#16aa84" stroke-width="0.4"/><polygon points="160.4,658.0 171.4,667.7 159.4,667.7" fill="#086c54" stroke="#086c54" stroke-width="0.4"/><polygon points="169.1,597.7 177.2,597.7 179.1,605.6" fill="#62dec0" stroke="#62dec0" stroke-width="0.4"/><polygon points="169.1,597.7 179.1,605.6 172.1,603.7" fill="#a4f2dc" stroke="#a4f2dc" stroke-width="0.4"/><polygon points="172.1,603.7 179.1,605.6 180.9,614.5" fill="#16aa84" stroke="#16aa84" stroke-width="0.4"/><polygon points="172.1,603.7 180.9,614.5 170.7,614.0" fill="#16aa84" stroke="#16aa84" stroke-width="0.4"/><polygon points="170.7,614.0 180.9,614.5 177.4,623.6" fill="#086c54" stroke="#086c54" stroke-width="0.4"/><polygon points="170.7,614.0 177.4,623.6 169.4,621.3" fill="#086c54" stroke="#086c54" stroke-width="0.4"/><polygon points="169.4,621.3 177.4,623.6 176.4,628.4" fill="#16aa84" stroke="#16aa84" stroke-width="0.4"/><polygon points="169.4,621.3 176.4,628.4 167.6,626.4" fill="#0e926e" stroke="#0e926e" stroke-width="0.4"/><polygon points="167.6,626.4 176.4,628.4 180.2,634.7" fill="#62dec0" stroke="#62dec0" stroke-width="0.4"/><polygon points="167.6,626.4 180.2,634.7 168.5,637.6" fill="#0e926e" stroke="#0e926e" stroke-width="0.4"/><polygon points="168.5,637.6 180.2,634.7 178.6,641.9" fill="#086c54" stroke="#086c54" stroke-width="0.4"/><polygon points="168.5,637.6 178.6,641.9 169.8,643.4" fill="#a4f2dc" stroke="#a4f2dc" stroke-width="0.4"/><polygon points="169.8,643.4 178.6,641.9 179.7,653.6" fill="#16aa84" stroke="#16aa84" stroke-width="0.4"/><polygon points="169.8,643.4 179.7,653.6 170.7,651.9" fill="#0e926e" stroke="#0e926e" stroke-width="0.4"/><polygon points="170.7,651.9 179.7,653.6 179.1,662.0" fill="#16aa84" stroke="#16aa84" stroke-width="0.4"/><polygon points="170.7,651.9 179.1,662.0 169.0,661.5" fill="#086c54" stroke="#086c54" stroke-width="0.4"/><polygon points="169.0,661.5 179.1,662.0 177.6,667.7" fill="#16aa84" stroke="#16aa84" stroke-width="0.4"/><polygon points="169.0,661.5 177.6,667.7 171.4,667.7" fill="#a4f2dc" stroke="#a4f2dc" stroke-width="0.4"/><polygon points="177.2,597.7 188.4,597.7 187.8,605.9" fill="#62dec0" stroke="#62dec0" stroke-width="0.4"/><polygon points="177.2,597.7 187.8,605.9 179.1,605.6" fill="#2ec49c" stroke="#2ec49c" stroke-width="0.4"/><polygon points="179.1,605.6 187.8,605.9 186.9,615.1" fill="#0e926e" stroke="#0e926e" stroke-width="0.4"/><polygon points="179.1,605.6 186.9,615.1 180.9,614.5" fill="#16aa84" stroke="#16aa84" stroke-width="0.4"/><polygon points="180.9,614.5 186.9,615.1 189.8,620.9" fill="#0e926e" stroke="#0e926e" stroke-width="0.4"/><polygon points="180.9,614.5 189.8,620.9 177.4,623.6" fill="#2ec49c" stroke="#2ec49c" stroke-width="0.4"/><polygon points="177.4,623.6 189.8,620.9 188.2,626.4" fill="#16aa84" stroke="#16aa84" stroke-width="0.4"/><polygon points="177.4,623.6 188.2,626.4 176.4,628.4" fill="#2ec49c" stroke="#2ec49c" stroke-width="0.4"/><polygon points="176.4,628.4 188.2,626.4 188.4,637.4" fill="#0e926e" stroke="#0e926e" stroke-width="0.4"/><polygon points="176.4,628.4 188.4,637.4 180.2,634.7" fill="#0e926e" stroke="#0e926e" stroke-width="0.4"/><polygon points="180.2,634.7 188.4,637.4 190.1,646.1" fill="#62dec0" stroke="#62dec0" stroke-width="0.4"/><polygon points="180.2,634.7 190.1,646.1 178.6,641.9" fill="#a4f2dc" stroke="#a4f2dc" stroke-width="0.4"/><polygon points="178.6,641.9 190.1,646.1 185.9,651.5" fill="#62dec0" stroke="#62dec0" stroke-width="0.4"/><polygon points="178.6,641.9 185.9,651.5 179.7,653.6" fill="#62dec0" stroke="#62dec0" stroke-width="0.4"/><polygon points="179.7,653.6 185.9,651.5 188.2,657.3" fill="#62dec0" stroke="#62dec0" stroke-width="0.4"/><polygon points="179.7,653.6 188.2,657.3 179.1,662.0" fill="#2ec49c" stroke="#2ec49c" stroke-width="0.4"/><polygon points="179.1,662.0 188.2,657.3 187.0,667.7" fill="#0e926e" stroke="#0e926e" stroke-width="0.4"/><polygon points="179.1,662.0 187.0,667.7 177.6,667.7" fill="#16aa84" stroke="#16aa84" stroke-width="0.4"/><polygon points="188.4,597.7 193.7,597.7 193.4,603.1" fill="#16aa84" stroke="#16aa84" stroke-width="0.4"/><polygon points="188.4,597.7 193.4,603.1 187.8,605.9" fill="#086c54" stroke="#086c54" stroke-width="0.4"/><polygon points="187.8,605.9 193.4,603.1 197.3,611.2" fill="#086c54" stroke="#086c54" stroke-width="0.4"/><polygon points="187.8,605.9 197.3,611.2 186.9,615.1" fill="#0e926e" stroke="#0e926e" stroke-width="0.4"/><polygon points="186.9,615.1 197.3,611.2 194.2,620.4" fill="#0e926e" stroke="#0e926e" stroke-width="0.4"/><polygon points="186.9,615.1 194.2,620.4 189.8,620.9" fill="#2ec49c" stroke="#2ec49c" stroke-width="0.4"/><polygon points="189.8,620.9 194.2,620.4 197.9,626.5" fill="#a4f2dc" stroke="#a4f2dc" stroke-width="0.4"/><polygon points="189.8,620.9 197.9,626.5 188.2,626.4" fill="#16aa84" stroke="#16aa84" stroke-width="0.4"/><polygon points="188.2,626.4 197.9,626.5 195.4,636.9" fill="#a4f2dc" stroke="#a4f2dc" stroke-width="0.4"/><polygon points="188.2,626.4 195.4,636.9 188.4,637.4" fill="#a4f2dc" stroke="#a4f2dc" stroke-width="0.4"/><polygon points="188.4,637.4 195.4,636.9 198.0,646.1" fill="#a4f2dc" stroke="#a4f2dc" stroke-width="0.4"/><polygon points="188.4,637.4 198.0,646.1 190.1,646.1" fill="#16aa84" stroke="#16aa84" stroke-width="0.4"/><polygon points="190.1,646.1 198.0,646.1 197.9,650.9" fill="#0e926e" stroke="#0e926e" stroke-width="0.4"/><polygon points="190.1,646.1 197.9,650.9 185.9,651.5" fill="#0e926e" stroke="#0e926e" stroke-width="0.4"/><polygon points="185.9,651.5 197.9,650.9 195.2,659.2" fill="#0e926e" stroke="#0e926e" stroke-width="0.4"/><polygon points="185.9,651.5 195.2,659.2 188.2,657.3" fill="#0e926e" stroke="#0e926e" stroke-width="0.4"/><polygon points="188.2,657.3 195.2,659.2 198.0,667.7" fill="#2ec49c" stroke="#2ec49c" stroke-width="0.4"/><polygon points="188.2,657.3 198.0,667.7 187.0,667.7" fill="#62dec0" stroke="#62dec0" stroke-width="0.4"/><polygon points="193.7,597.7 204.2,597.7 204.2,608.0" fill="#62dec0" stroke="#62dec0" stroke-width="0.4"/><polygon points="193.7,597.7 204.2,608.0 193.4,603.1" fill="#16aa84" stroke="#16aa84" stroke-width="0.4"/><polygon points="193.4,603.1 204.2,608.0 204.2,611.4" fill="#2ec49c" stroke="#2ec49c" stroke-width="0.4"/><polygon points="193.4,603.1 204.2,611.4 197.3,611.2" fill="#2ec49c" stroke="#2ec49c" stroke-width="0.4"/><polygon points="197.3,611.2 204.2,611.4 204.2,619.3" fill="#086c54" stroke="#086c54" stroke-width="0.4"/><polygon points="197.3,611.2 204.2,619.3 194.2,620.4" fill="#2ec49c" stroke="#2ec49c" stroke-width="0.4"/><polygon points="194.2,620.4 204.2,619.3 204.2,627.4" fill="#62dec0" stroke="#62dec0" stroke-width="0.4"/><polygon points="194.2,620.4 204.2,627.4 197.9,626.5" fill="#2ec49c" stroke="#2ec49c" stroke-width="0.4"/><polygon points="197.9,626.5 204.2,627.4 204.2,635.1" fill="#2ec49c" stroke="#2ec49c" stroke-width="0.4"/><polygon points="197.9,626.5 204.2,635.1 195.4,636.9" fill="#16aa84" stroke="#16aa84" stroke-width="0.4"/><polygon points="195.4,636.9 204.2,635.1 204.2,644.3" fill="#0e926e" stroke="#0e926e" stroke-width="0.4"/><polygon points="195.4,636.9 204.2,644.3 198.0,646.1" fill="#2ec49c" stroke="#2ec49c" stroke-width="0.4"/><polygon points="198.0,646.1 204.2,644.3 204.2,652.6" fill="#0e926e" stroke="#0e926e" stroke-width="0.4"/><polygon points="198.0,646.1 204.2,652.6 197.9,650.9" fill="#62dec0" stroke="#62dec0" stroke-width="0.4"/><polygon points="197.9,650.9 204.2,652.6 204.2,658.6" fill="#a4f2dc" stroke="#a4f2dc" stroke-width="0.4"/><polygon points="197.9,650.9 204.2,658.6 195.2,659.2" fill="#16aa84" stroke="#16aa84" stroke-width="0.4"/><polygon points="195.2,659.2 204.2,658.6 204.2,667.7" fill="#16aa84" stroke="#16aa84" stroke-width="0.4"/><polygon points="195.2,659.2 204.2,667.7 198.0,667.7" fill="#a4f2dc" stroke="#a4f2dc" stroke-width="0.4"/></g>
<ellipse cx="178.7" cy="632.7" rx="25.5" ry="35" fill="url(#gTealShade)" stroke="#0b4a40" stroke-width="1"/>
<path fill="url(#gSil)" stroke="#5a5a5a" stroke-width="1" d="M192,584 C200,588 205,597 205,609 L199,610 C198,601 196,594 190,590 Z"/>
<circle cx="156.7" cy="591.3" r="11.5" fill="url(#gBall)" stroke="#5a5a5a" stroke-width="1.1"/>
<path stroke="#1e1e1e" stroke-width="1.4" d="M158.2,584.3 L158.2,597.3"/>
<circle cx="184.6" cy="589" r="12" fill="url(#gBall)" stroke="#5a5a5a" stroke-width="1.1"/>
<path stroke="#1e1e1e" stroke-width="1.4" d="M186.1,582 L186.1,595"/>

</g>
</defs>
<g clip-path="url(#c1)"><g filter="url(#soft)"><g transform="matrix(0.6993,0,0,0.6993,39.02,-239.58)"><use href="#df"/></g></g></g>
<g clip-path="url(#c3)"><g filter="url(#soft)"><use href="#df"/></g></g>
<g clip-path="url(#c2)"><g filter="url(#soft)">
<defs>
<linearGradient id="rFront" x1="0" y1="0" x2="1" y2="0">
<stop offset="0" stop-color="#a0a0a0"/><stop offset="0.15" stop-color="#d8d8d8"/><stop offset="0.4" stop-color="#d4d4d4"/><stop offset="0.6" stop-color="#e6e6e6"/><stop offset="0.85" stop-color="#d8d8d8"/><stop offset="1" stop-color="#acacac"/>
</linearGradient>
<linearGradient id="rIn" x1="0" y1="0" x2="1" y2="0">
<stop offset="0" stop-color="#b8b8b8"/><stop offset="0.4" stop-color="#dedede"/><stop offset="1" stop-color="#cfcfcf"/>
</linearGradient>
<linearGradient id="rEdge" x1="0" y1="0" x2="1" y2="0">
<stop offset="0" stop-color="#e0e0e0"/><stop offset="0.6" stop-color="#f4f4f4"/><stop offset="1" stop-color="#bdbdbd"/>
</linearGradient>
</defs>
<!-- silhouette / outer rope edge -->
<path fill="url(#rEdge)" stroke="#6e6e6e" stroke-width="1.2" d="M571,340.5 C555,343 545,358 542.5,375 C541,395 541,425 543.5,443 C546,458 556,471 573,473.5 C586,473.5 593,462 597,445 C600.5,420 600.5,395 598.5,378 C595,356 588,342 571,340.5 Z"/>
<!-- inner face -->
<path fill="url(#rIn)" d="M576,350 C582,354 586,362 590,372 C593,380 591,388 594,396 C596,404 593,412 595,420 C597,428 594,436 595,444 C594,452 590,460 585,466 C580,470 576,471 573,471 C576,440 575,400 576,350 Z"/>
<path fill="none" stroke="#2e2e2e" stroke-width="1.4" d="M584,361 C588,366 589,370 590,372 C593,380 591,388 594,396 C596,404 593,412 595,420 C597,428 594,436 595,444 C594,452 590,460 585,466"/>
<g fill="none" stroke="#7a7a7a" stroke-width="1">
<path d="M589,352 C592,356 594,360 594,366"/>
<path d="M596,382 C598,386 598,390 596,394"/>
<path d="M597,408 C599,412 599,416 597,420"/>
<path d="M597,434 C599,438 598,442 596,446"/>
<path d="M594,456 C595,460 594,463 592,466"/>
</g>
<!-- front face -->
<path fill="url(#rFront)" stroke="#5e5e5e" stroke-width="1" d="M571,340.5 C555,343 545,358 542.5,375 C541,395 541,425 543.5,443 C546,458 556,471 573,473.5 C579,466 580,455 579,440 C577,420 575,400 575.5,380 C576,368 578,358 578,352 C576,346 574,342 571,340.5 Z"/>
<!-- highlights -->
<g fill="none" stroke="#fafafa" stroke-opacity="0.8" stroke-width="5.5" stroke-linecap="round">
<path d="M553,361 C558,356 566,354 576,355"/>
<path d="M545,388 C550,381 558,376 575,372.5"/>
<path d="M545,410 C550,403 558,397 575,393"/>
<path d="M546,432 C551,425 559,420 576,416.5"/>
<path d="M549,452 C554,446 562,441 578,438"/>
<path d="M557,467 C562,462 570,459 579,458"/>
</g>
<!-- groove shadows -->
<g fill="none" stroke="#7a7a7a" stroke-opacity="0.38" stroke-width="2.6" stroke-linecap="round">
<path d="M544,379 C549,373 557,369 576,366"/>
<path d="M543,402 C548,395 557,389 576,384"/>
<path d="M543,424 C548,417 557,411 576,407"/>
<path d="M545,446 C550,439 559,434 578,431"/>
<path d="M551,462 C556,456 565,452 580,450"/>
</g>
<!-- grooves -->
<g fill="none" stroke="#262626" stroke-width="1.3" stroke-linecap="round">
<path d="M550,354 C555,347 563,344 578,349"/>
<path d="M543.5,376 C548,370 556,366 576,363"/>
<path d="M542.5,399 C547,392 556,386 576,381"/>
<path d="M542.5,421 C547,414 556,408 576,404"/>
<path d="M544,443 C549,436 558,431 578,428"/>
<path d="M550,459 C555,453 564,449 580,447"/>
<path d="M560,349 C560.5,356 560,362 559.5,367" stroke-width="0.9" stroke="#3a3a3a"/>
<path d="M559.5,368 C559.5,375 559,381 559,386" stroke-width="0.9" stroke="#3a3a3a"/>
<path d="M559,388 C558.8,395 558.6,401 558.5,407" stroke-width="0.9" stroke="#3a3a3a"/>
<path d="M558.5,410 C558.5,417 558.6,424 558.8,430" stroke-width="0.9" stroke="#3a3a3a"/>
</g>
<text x="0" y="0" transform="translate(588.3,424.5) rotate(-90)" font-family="Liberation Sans" font-size="15.5" letter-spacing="2.9" fill="#262626" stroke="#262626" stroke-width="0.15">S925</text>
<!-- wire -->
<path fill="url(#gSil)" stroke="#5e5e5e" stroke-width="1.1" d="M559,470 L572,470 L571.5,500 C571.5,506 558.5,506 558.5,500 Z"/>
<path stroke="#555" stroke-width="1" d="M565.5,474 L565,500"/>
<!-- bottom ring -->
<path fill="#e4e4e4" fill-rule="evenodd" stroke="#5a5a5a" stroke-width="1.1" d="M544,505 A19.8,21 0 1,1 583.6,505 A19.8,21 0 1,1 544,505 Z M551,507 A12.8,14 0 1,0 576.6,507 A12.8,14 0 1,0 551,507 Z"/>
<ellipse cx="563.8" cy="506" rx="16.3" ry="17.5" fill="none" stroke="#7a7a7a" stroke-width="1"/>
<path fill="url(#gSil)" stroke="#5e5e5e" stroke-width="1.1" d="M558.5,490 L571.5,490 L571.5,500 C571.5,506 558.5,506 558.5,500 Z"/>

</g></g>
</svg>
<div class="t" style="left:343px;top:170px">Embedded zircon</div>
<div class="t" style="left:343px;top:212px">using 3A zircon cutting standards</div>
<div class="t" style="left:83px;top:369px">925 sterling silver material</div>
<div class="t" style="left:83px;top:411px">skin-friendly,comfortable</div>
<div class="t" style="left:83px;top:453px">and healthy</div>
<div class="t" style="left:337px;top:574px">Transparent and clear glass material</div>
<div class="t" style="left:337px;top:616px">highlighting the beautiful light and</div>
<div class="t" style="left:337px;top:658px">bright luster</div>
</body></html>
